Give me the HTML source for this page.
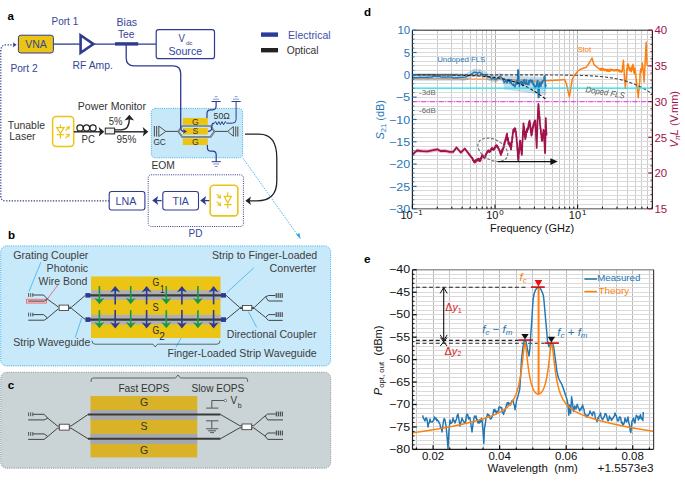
<!DOCTYPE html>
<html><head><meta charset="utf-8"><style>
html,body{margin:0;padding:0;background:#fff;}
svg{display:block;font-family:"Liberation Sans", sans-serif;}
</style></head><body>
<svg width="685" height="485" viewBox="0 0 685 485">
<rect width="685" height="485" fill="#fff"/>
<text x="7.60" y="19.60" font-size="11.55" fill="#000" font-weight="bold">a</text>
<path d="M109.2,200.9 H5.5 Q0.8,200.9 0.8,196 V51 Q0.8,44.8 6.5,44.8 H14" stroke="#2e3b8f" stroke-width="1.2" fill="none" stroke-dasharray="1.3,1.45"/>
<path d="M16.60,44.80 L12.80,47.40 L13.80,44.80 L12.80,42.20 Z" stroke="none" stroke-width="1" fill="#2e3b8f"/>
<rect x="18.40" y="35.20" width="35.00" height="17.80" rx="2.5" fill="#ecc414" stroke="#2e3b8f" stroke-width="1"/>
<text x="25.20" y="48.20" font-size="11.55" fill="#36468a" textLength="21.60" lengthAdjust="spacingAndGlyphs">VNA</text>
<line x1="53.40" y1="44.10" x2="80.50" y2="44.10" stroke="#2e3b8f" stroke-width="1.3"/>
<path d="M80.6,35.3 L93.4,44.1 L80.6,52.9 Z" stroke="#2e3b8f" stroke-width="2.6" fill="#fff" stroke-linejoin="miter"/>
<line x1="94.30" y1="44.10" x2="156.20" y2="44.10" stroke="#2e3b8f" stroke-width="1.3"/>
<line x1="115.00" y1="43.90" x2="138.20" y2="43.90" stroke="#2e3b8f" stroke-width="3.4"/>
<text x="51.60" y="25.40" font-size="10.78" fill="#33449a" textLength="26.60" lengthAdjust="spacingAndGlyphs">Port 1</text>
<text x="72.60" y="69.00" font-size="10.78" fill="#33449a" textLength="40.30" lengthAdjust="spacingAndGlyphs">RF Amp.</text>
<text x="10.40" y="71.80" font-size="10.78" fill="#33449a" textLength="27.20" lengthAdjust="spacingAndGlyphs">Port 2</text>
<text x="116.60" y="25.60" font-size="10.78" fill="#33449a" textLength="20.50" lengthAdjust="spacingAndGlyphs">Bias</text>
<text x="118.00" y="37.80" font-size="10.78" fill="#33449a" textLength="16.50" lengthAdjust="spacingAndGlyphs">Tee</text>
<rect x="156.20" y="29.60" width="58.30" height="29.10" rx="2.5" fill="#fff" stroke="#2e3b8f" stroke-width="1.2"/>
<text x="178.60" y="42.00" font-size="10.78" fill="#33449a" textLength="6.40" lengthAdjust="spacingAndGlyphs">V</text>
<text x="185.90" y="45.00" font-size="5.8" fill="#33449a" textLength="6.60" lengthAdjust="spacingAndGlyphs">dc</text>
<text x="168.40" y="54.80" font-size="10.78" fill="#33449a" textLength="33.80" lengthAdjust="spacingAndGlyphs">Source</text>
<path d="M126.2,44 V58 Q126.2,65.8 134,65.8 H173 Q180.7,65.8 180.7,73.5 V109" stroke="#2e3b8f" stroke-width="1.3" fill="none"/>
<rect x="261.00" y="32.40" width="17.00" height="4.40" rx="0" fill="#2b3b9a" stroke="none" stroke-width="1"/>
<text x="288.10" y="39.30" font-size="11.0" fill="#3f51a5" textLength="42.50" lengthAdjust="spacingAndGlyphs">Electrical</text>
<rect x="261.00" y="48.00" width="17.00" height="4.40" rx="0" fill="#222" stroke="none" stroke-width="1"/>
<text x="286.70" y="53.90" font-size="11.0" fill="#333" textLength="31.90" lengthAdjust="spacingAndGlyphs">Optical</text>
<text x="7.80" y="129.30" font-size="10.56" fill="#333" textLength="37.20" lengthAdjust="spacingAndGlyphs">Tunable</text>
<text x="9.20" y="140.40" font-size="10.56" fill="#333" textLength="26.40" lengthAdjust="spacingAndGlyphs">Laser</text>
<rect x="52.60" y="116.60" width="21.10" height="29.80" rx="3.5" fill="#fff" stroke="#ecc414" stroke-width="1.5"/>
<path d="M60.4,124.5 V127.7 M60.4,133.4 V138.5 M56.7,127.7 H64.1 L60.4,133.4 Z M56.7,134.7 H64.1" stroke="#ecc414" stroke-width="1.2" fill="none" stroke-linejoin="miter"/>
<line x1="65.40" y1="130.50" x2="67.80" y2="128.10" stroke="#ecc414" stroke-width="1.2"/>
<path d="M70.00,125.90 L69.01,130.57 L67.88,128.02 L65.33,126.89 Z" stroke="none" stroke-width="1" fill="#ecc414"/>
<line x1="65.40" y1="138.20" x2="67.80" y2="135.80" stroke="#ecc414" stroke-width="1.2"/>
<path d="M70.00,133.60 L69.01,138.27 L67.88,135.72 L65.33,134.59 Z" stroke="none" stroke-width="1" fill="#ecc414"/>
<line x1="73.80" y1="131.80" x2="101.50" y2="131.80" stroke="#222" stroke-width="1.4"/>
<circle cx="80.0" cy="128.0" r="3.1" stroke="#222" stroke-width="1.2" fill="none"/>
<circle cx="86.5" cy="128.0" r="3.1" stroke="#222" stroke-width="1.2" fill="none"/>
<circle cx="93.0" cy="128.0" r="3.1" stroke="#222" stroke-width="1.2" fill="none"/>
<path d="M104.30,131.80 L98.70,136.60 L100.00,131.80 L98.70,127.00 Z" stroke="none" stroke-width="1" fill="#222"/>
<rect x="105.30" y="128.10" width="9.30" height="5.80" rx="0" fill="#eef0ee" stroke="#333" stroke-width="1.1"/>
<line x1="114.70" y1="131.80" x2="146.00" y2="131.80" stroke="#222" stroke-width="1.4"/>
<path d="M148.30,131.80 L142.70,136.60 L144.00,131.80 L142.70,127.00 Z" stroke="none" stroke-width="1" fill="#222"/>
<path d="M114.7,129.9 H121 Q129.3,129.9 129.3,119" stroke="#222" stroke-width="1.3" fill="none"/>
<path d="M129.30,114.80 L134.20,120.60 L129.30,119.20 L124.40,120.60 Z" stroke="none" stroke-width="1" fill="#222"/>
<text x="77.80" y="109.70" font-size="10.78" fill="#333" textLength="68.20" lengthAdjust="spacingAndGlyphs">Power Monitor</text>
<text x="108.80" y="124.60" font-size="10.78" fill="#333" textLength="13.80" lengthAdjust="spacingAndGlyphs">5%</text>
<text x="81.50" y="143.40" font-size="10.78" fill="#333" textLength="13.40" lengthAdjust="spacingAndGlyphs">PC</text>
<text x="116.50" y="143.40" font-size="10.78" fill="#333" textLength="19.90" lengthAdjust="spacingAndGlyphs">95%</text>
<rect x="151.30" y="108.40" width="91.30" height="49.40" rx="4" fill="#c6e8f9" stroke="#35aee6" stroke-width="1" stroke-dasharray="1,1.2"/>
<rect x="182.80" y="117.90" width="25.00" height="7.00" rx="0" fill="#ecc414" stroke="none" stroke-width="1"/>
<rect x="182.80" y="127.90" width="25.00" height="6.70" rx="0" fill="#ecc414" stroke="none" stroke-width="1"/>
<rect x="182.80" y="138.30" width="25.00" height="6.80" rx="0" fill="#ecc414" stroke="none" stroke-width="1"/>
<text x="195.30" y="124.50" font-size="8.6" fill="#333" text-anchor="middle">G</text>
<text x="195.30" y="134.40" font-size="8.6" fill="#333" text-anchor="middle">S</text>
<text x="195.30" y="144.90" font-size="8.6" fill="#333" text-anchor="middle">G</text>
<path d="M165.8,131.4 H178.3 M214.4,131.4 H227.6" stroke="#333" stroke-width="0.9" fill="none"/>
<path d="M178.3,131.4 L182.2,126.0 H210.6 L214.4,131.4 L210.6,136.8 H182.2 Z" stroke="#5b6570" stroke-width="1.7" fill="none" stroke-linejoin="miter"/>
<path d="M178.3,131.4 L182.2,126.0 H210.6 L214.4,131.4 L210.6,136.8 H182.2 Z" stroke="#aab5c0" stroke-width="0.6" fill="none" stroke-linejoin="miter"/>
<line x1="154.40" y1="126.10" x2="154.40" y2="136.50" stroke="#555" stroke-width="1.1"/>
<line x1="156.60" y1="126.10" x2="156.60" y2="136.50" stroke="#555" stroke-width="1.1"/>
<path d="M158.8,126.1 V136.5 L165.8,131.4 Z" stroke="#444" stroke-width="0.9" fill="none" stroke-linejoin="miter"/>
<line x1="235.70" y1="126.40" x2="235.70" y2="136.40" stroke="#555" stroke-width="1.1"/>
<line x1="237.80" y1="126.40" x2="237.80" y2="136.40" stroke="#555" stroke-width="1.1"/>
<path d="M233.4,126.6 V136.2 L227.6,131.4 Z" stroke="#444" stroke-width="0.9" fill="none" stroke-linejoin="miter"/>
<text x="153.40" y="145.30" font-size="8.8" fill="#333" textLength="12.50" lengthAdjust="spacingAndGlyphs">GC</text>
<text x="151.50" y="169.40" font-size="11.0" fill="#333" textLength="23.40" lengthAdjust="spacingAndGlyphs">EOM</text>
<text x="213.60" y="119.30" font-size="8.8" fill="#333" textLength="16.30" lengthAdjust="spacingAndGlyphs">50Ω</text>
<path d="M207.0,117.9 V113.5 Q207.0,109.8 210.7,109.8 H212.4 Q216.1,109.8 216.1,106 V101.5" stroke="#2e3b8f" stroke-width="1.2" fill="none"/>
<path d="M208.0,131.4 Q211.8,131.4 211.8,127.6 V126.5 Q211.8,123.2 214.3,123.2" stroke="#2e3b8f" stroke-width="1.2" fill="none"/>
<path d="M214.3,123.2 L215.6,121.6 L217.2,124.8 L218.8,121.6 L220.4,124.8 L222.0,121.6 L223.6,124.8 L225.2,121.6 L226.8,123.2 H232.4 Q236.1,123.2 236.1,119.5 V101.5" stroke="#2e3b8f" stroke-width="1.0" fill="none"/>
<path d="M207.4,145.1 V147.8 Q207.4,151.2 211,151.2 H212.6 Q216.2,151.2 216.2,155 V161.7" stroke="#2e3b8f" stroke-width="1.2" fill="none"/>
<path d="M211.5,101.5 H220.7" stroke="#2e3b8f" stroke-width="1.0" fill="none"/>
<path d="M213.1,99.2 H219.1 M214.7,96.7 H217.5" stroke="#6c78b8" stroke-width="0.8" fill="none"/>
<path d="M231.5,101.5 H240.7" stroke="#2e3b8f" stroke-width="1.0" fill="none"/>
<path d="M233.1,99.2 H239.1 M234.7,96.7 H237.5" stroke="#6c78b8" stroke-width="0.8" fill="none"/>
<path d="M211.6,161.7 H220.79999999999998" stroke="#2e3b8f" stroke-width="1.0" fill="none"/>
<path d="M213.2,164.0 H219.2 M214.79999999999998,166.5 H217.6" stroke="#6c78b8" stroke-width="0.8" fill="none"/>
<path d="M180.7,108 V127.8 Q180.7,131.4 184,131.4" stroke="#2e3b8f" stroke-width="1.3" fill="none"/>
<path d="M187.00,131.40 L183.00,133.80 L184.00,131.40 L183.00,129.00 Z" stroke="none" stroke-width="1" fill="#2e3b8f"/>
<path d="M245.0,134.1 H259 C271.5,134.1 276.8,142 276.8,158 V181 C276.8,194 270,200.8 257,200.8 H249" stroke="#222" stroke-width="1.3" fill="none"/>
<path d="M245.40,200.80 L251.00,196.50 L249.70,200.80 L251.00,205.10 Z" stroke="none" stroke-width="1" fill="#222"/>
<path d="M242.7,157.8 L298.5,236.4" stroke="#2aa8e6" stroke-width="1" fill="none" stroke-dasharray="1,1.2"/>
<path d="M296.2,234.6 L300.6,239.2 L299.6,233.3 Z" stroke="none" stroke-width="1" fill="#2aa8e6"/>
<rect x="148.20" y="174.80" width="95.20" height="51.70" rx="3" fill="none" stroke="#2e3b8f" stroke-width="1" stroke-dasharray="1,1.2"/>
<rect x="109.20" y="191.50" width="35.70" height="18.50" rx="2.5" fill="#fff" stroke="#2e3b8f" stroke-width="1.1"/>
<rect x="162.80" y="191.50" width="35.70" height="18.50" rx="2.5" fill="#fff" stroke="#2e3b8f" stroke-width="1.1"/>
<text x="115.60" y="205.00" font-size="11.0" fill="#33449a" textLength="20.80" lengthAdjust="spacingAndGlyphs">LNA</text>
<text x="172.50" y="205.00" font-size="11.0" fill="#33449a" textLength="16.40" lengthAdjust="spacingAndGlyphs">TIA</text>
<line x1="155.20" y1="200.60" x2="161.70" y2="200.60" stroke="#2e3b8f" stroke-width="1.3"/>
<path d="M152.20,200.60 L158.20,196.10 L156.80,200.60 L158.20,205.10 Z" stroke="none" stroke-width="1" fill="#2e3b8f"/>
<line x1="203.20" y1="200.60" x2="209.70" y2="200.60" stroke="#2e3b8f" stroke-width="1.3"/>
<path d="M200.20,200.60 L206.20,196.10 L204.80,200.60 L206.20,205.10 Z" stroke="none" stroke-width="1" fill="#2e3b8f"/>
<rect x="210.20" y="185.20" width="27.60" height="30.70" rx="3.5" fill="#fff" stroke="#ecc414" stroke-width="1.6"/>
<path d="M227.7,192.2 V196.3 M227.7,202.9 V208.6 M224.2,196.3 H231.4 L227.7,202.9 Z M224.2,204.7 H231.4" stroke="#ecc414" stroke-width="1.2" fill="none" stroke-linejoin="miter"/>
<line x1="216.70" y1="194.10" x2="219.30" y2="196.70" stroke="#ecc414" stroke-width="1.2"/>
<path d="M221.30,198.70 L216.63,197.71 L219.18,196.58 L220.31,194.03 Z" stroke="none" stroke-width="1" fill="#ecc414"/>
<line x1="216.70" y1="201.60" x2="219.30" y2="204.20" stroke="#ecc414" stroke-width="1.2"/>
<path d="M221.30,206.20 L216.63,205.21 L219.18,204.08 L220.31,201.53 Z" stroke="none" stroke-width="1" fill="#ecc414"/>
<text x="188.60" y="236.80" font-size="11.0" fill="#33449a" textLength="13.90" lengthAdjust="spacingAndGlyphs">PD</text>
<text x="7.90" y="238.50" font-size="11.55" fill="#000" font-weight="bold">b</text>
<rect x="0.70" y="245.90" width="329.90" height="120.00" rx="6" fill="#c7e9fa" stroke="#35aee6" stroke-width="1" stroke-dasharray="1,1.2"/>
<text x="13.20" y="258.90" font-size="11.0" fill="#3d3d3d" textLength="75.20" lengthAdjust="spacingAndGlyphs">Grating Coupler</text>
<text x="46.60" y="272.00" font-size="11.0" fill="#3d3d3d" textLength="41.50" lengthAdjust="spacingAndGlyphs">Photonic</text>
<text x="38.60" y="284.70" font-size="11.0" fill="#3d3d3d" textLength="48.80" lengthAdjust="spacingAndGlyphs">Wire Bond</text>
<text x="13.20" y="345.80" font-size="11.0" fill="#3d3d3d" textLength="77.20" lengthAdjust="spacingAndGlyphs">Strip Waveguide</text>
<text x="212.00" y="259.20" font-size="11.0" fill="#3d3d3d" textLength="105.20" lengthAdjust="spacingAndGlyphs">Strip to Finger-Loaded</text>
<text x="269.60" y="271.80" font-size="11.0" fill="#3d3d3d" textLength="46.80" lengthAdjust="spacingAndGlyphs">Converter</text>
<text x="226.80" y="338.40" font-size="11.0" fill="#3d3d3d" textLength="89.60" lengthAdjust="spacingAndGlyphs">Directional Coupler</text>
<text x="167.50" y="357.20" font-size="11.0" fill="#3d3d3d" textLength="149.20" lengthAdjust="spacingAndGlyphs">Finger-Loaded Strip Waveguide</text>
<line x1="40.90" y1="262.20" x2="29.00" y2="291.50" stroke="#3ab4ea" stroke-width="0.8"/>
<line x1="58.10" y1="284.60" x2="47.00" y2="299.50" stroke="#e8556a" stroke-width="0.8"/>
<line x1="81.80" y1="317.70" x2="75.20" y2="337.70" stroke="#3ab4ea" stroke-width="0.8"/>
<line x1="253.90" y1="267.80" x2="226.90" y2="292.50" stroke="#3ab4ea" stroke-width="0.8"/>
<line x1="248.30" y1="311.60" x2="256.70" y2="327.40" stroke="#3ab4ea" stroke-width="0.8"/>
<line x1="190.80" y1="321.20" x2="176.00" y2="347.20" stroke="#3ab4ea" stroke-width="0.8"/>
<rect x="26.40" y="299.20" width="20.20" height="3.90" rx="0" fill="#f2c6c0" stroke="#e8556a" stroke-width="0.7"/>
<rect x="91.00" y="276.50" width="129.50" height="61.50" rx="0" fill="#ecc414" stroke="none" stroke-width="1"/>
<rect x="91.00" y="290.20" width="129.50" height="9.90" rx="0" fill="#aeb0b4" stroke="none" stroke-width="1"/>
<rect x="91.00" y="314.80" width="129.50" height="9.70" rx="0" fill="#aeb0b4" stroke="none" stroke-width="1"/>
<line x1="86.00" y1="295.40" x2="226.00" y2="295.40" stroke="#3a3a3a" stroke-width="2.4"/>
<line x1="86.00" y1="319.60" x2="226.00" y2="319.60" stroke="#3a3a3a" stroke-width="2.4"/>
<rect x="85.40" y="293.10" width="5.10" height="4.50" rx="0" fill="#2b3a92" stroke="none" stroke-width="1"/>
<rect x="85.40" y="317.30" width="5.10" height="4.60" rx="0" fill="#2b3a92" stroke="none" stroke-width="1"/>
<rect x="220.90" y="293.10" width="5.10" height="4.50" rx="0" fill="#2b3a92" stroke="none" stroke-width="1"/>
<rect x="220.90" y="317.30" width="5.10" height="4.60" rx="0" fill="#2b3a92" stroke="none" stroke-width="1"/>
<line x1="99.40" y1="286.00" x2="99.40" y2="301.20" stroke="#169a48" stroke-width="1.6"/>
<path d="M99.40,304.20 L94.40,297.90 L99.40,299.60 L104.40,297.90 Z" stroke="none" stroke-width="1" fill="#169a48"/>
<line x1="99.40" y1="310.20" x2="99.40" y2="325.30" stroke="#169a48" stroke-width="1.6"/>
<path d="M99.40,328.30 L94.40,322.00 L99.40,323.70 L104.40,322.00 Z" stroke="none" stroke-width="1" fill="#169a48"/>
<line x1="130.70" y1="286.00" x2="130.70" y2="301.20" stroke="#169a48" stroke-width="1.6"/>
<path d="M130.70,304.20 L125.70,297.90 L130.70,299.60 L135.70,297.90 Z" stroke="none" stroke-width="1" fill="#169a48"/>
<line x1="130.70" y1="310.20" x2="130.70" y2="325.30" stroke="#169a48" stroke-width="1.6"/>
<path d="M130.70,328.30 L125.70,322.00 L130.70,323.70 L135.70,322.00 Z" stroke="none" stroke-width="1" fill="#169a48"/>
<line x1="166.30" y1="286.00" x2="166.30" y2="301.20" stroke="#169a48" stroke-width="1.6"/>
<path d="M166.30,304.20 L161.30,297.90 L166.30,299.60 L171.30,297.90 Z" stroke="none" stroke-width="1" fill="#169a48"/>
<line x1="166.30" y1="310.20" x2="166.30" y2="325.30" stroke="#169a48" stroke-width="1.6"/>
<path d="M166.30,328.30 L161.30,322.00 L166.30,323.70 L171.30,322.00 Z" stroke="none" stroke-width="1" fill="#169a48"/>
<line x1="197.90" y1="286.00" x2="197.90" y2="301.20" stroke="#169a48" stroke-width="1.6"/>
<path d="M197.90,304.20 L192.90,297.90 L197.90,299.60 L202.90,297.90 Z" stroke="none" stroke-width="1" fill="#169a48"/>
<line x1="197.90" y1="310.20" x2="197.90" y2="325.30" stroke="#169a48" stroke-width="1.6"/>
<path d="M197.90,328.30 L192.90,322.00 L197.90,323.70 L202.90,322.00 Z" stroke="none" stroke-width="1" fill="#169a48"/>
<line x1="115.20" y1="304.40" x2="115.20" y2="289.00" stroke="#2b3a92" stroke-width="1.6"/>
<path d="M115.20,286.00 L120.20,292.30 L115.20,290.60 L110.20,292.30 Z" stroke="none" stroke-width="1" fill="#2b3a92"/>
<line x1="115.20" y1="310.00" x2="115.20" y2="325.50" stroke="#2b3a92" stroke-width="1.6"/>
<path d="M115.20,328.50 L110.20,322.20 L115.20,323.90 L120.20,322.20 Z" stroke="none" stroke-width="1" fill="#2b3a92"/>
<line x1="146.60" y1="304.40" x2="146.60" y2="289.00" stroke="#2b3a92" stroke-width="1.6"/>
<path d="M146.60,286.00 L151.60,292.30 L146.60,290.60 L141.60,292.30 Z" stroke="none" stroke-width="1" fill="#2b3a92"/>
<line x1="146.60" y1="310.00" x2="146.60" y2="325.50" stroke="#2b3a92" stroke-width="1.6"/>
<path d="M146.60,328.50 L141.60,322.20 L146.60,323.90 L151.60,322.20 Z" stroke="none" stroke-width="1" fill="#2b3a92"/>
<line x1="181.90" y1="304.40" x2="181.90" y2="289.00" stroke="#2b3a92" stroke-width="1.6"/>
<path d="M181.90,286.00 L186.90,292.30 L181.90,290.60 L176.90,292.30 Z" stroke="none" stroke-width="1" fill="#2b3a92"/>
<line x1="181.90" y1="310.00" x2="181.90" y2="325.50" stroke="#2b3a92" stroke-width="1.6"/>
<path d="M181.90,328.50 L176.90,322.20 L181.90,323.90 L186.90,322.20 Z" stroke="none" stroke-width="1" fill="#2b3a92"/>
<line x1="213.60" y1="304.40" x2="213.60" y2="289.00" stroke="#2b3a92" stroke-width="1.6"/>
<path d="M213.60,286.00 L218.60,292.30 L213.60,290.60 L208.60,292.30 Z" stroke="none" stroke-width="1" fill="#2b3a92"/>
<line x1="213.60" y1="310.00" x2="213.60" y2="325.50" stroke="#2b3a92" stroke-width="1.6"/>
<path d="M213.60,328.50 L208.60,322.20 L213.60,323.90 L218.60,322.20 Z" stroke="none" stroke-width="1" fill="#2b3a92"/>
<text x="152.60" y="286.20" font-size="11.0" fill="#2a2a2a" textLength="6.80" lengthAdjust="spacingAndGlyphs">G</text>
<text x="159.90" y="293.40" font-size="11.0" fill="#2a2a2a" textLength="4.60" lengthAdjust="spacingAndGlyphs">1</text>
<text x="152.60" y="310.80" font-size="10.6" fill="#2a2a2a" textLength="6.20" lengthAdjust="spacingAndGlyphs">S</text>
<text x="152.60" y="334.40" font-size="11.0" fill="#2a2a2a" textLength="6.80" lengthAdjust="spacingAndGlyphs">G</text>
<text x="159.20" y="340.30" font-size="11.0" fill="#2a2a2a" textLength="5.60" lengthAdjust="spacingAndGlyphs">2</text>
<line x1="28.60" y1="293.10" x2="28.60" y2="296.90" stroke="#333" stroke-width="0.8"/>
<line x1="30.70" y1="293.10" x2="30.70" y2="296.90" stroke="#333" stroke-width="0.8"/>
<line x1="32.80" y1="293.10" x2="32.80" y2="296.90" stroke="#333" stroke-width="0.8"/>
<line x1="28.60" y1="312.70" x2="28.60" y2="316.50" stroke="#333" stroke-width="0.8"/>
<line x1="30.70" y1="312.70" x2="30.70" y2="316.50" stroke="#333" stroke-width="0.8"/>
<line x1="32.80" y1="312.70" x2="32.80" y2="316.50" stroke="#333" stroke-width="0.8"/>
<path d="M32.8,295 H43.6 L47.5,299.2 M28.2,301.1 H44.2 L47.5,299.2 L58.6,307.2" stroke="#333" stroke-width="0.9" fill="none"/>
<path d="M32.8,314.6 H43.6 L47.5,318 M28.2,320.2 H44.2 L47.5,318 L58.6,308.6" stroke="#333" stroke-width="0.9" fill="none"/>
<rect x="59.10" y="305.10" width="9.50" height="5.30" rx="0" fill="#fff" stroke="#333" stroke-width="0.8"/>
<path d="M68.6,307.2 L71.5,307.2 L85.4,295.3 M68.6,308.4 L71.5,308.4 L85.4,319.6" stroke="#333" stroke-width="0.9" fill="none"/>
<rect x="242.50" y="305.40" width="9.30" height="4.90" rx="0" fill="#fff" stroke="#333" stroke-width="0.8"/>
<path d="M226,295.3 L239.5,307.3 H242.5 M226,319.6 L239.5,308.5 H242.5" stroke="#333" stroke-width="0.9" fill="none"/>
<path d="M251.8,307.3 H254.5 L265.5,296.8 L268.5,295.5 H275.4 M265.5,296.8 L268.5,301 H282.6" stroke="#333" stroke-width="0.9" fill="none"/>
<path d="M251.8,308.5 H254.5 L265.5,317.4 L268.5,314.6 H275.4 M265.5,317.4 L268.5,320.4 H282.6" stroke="#333" stroke-width="0.9" fill="none"/>
<line x1="276.20" y1="293.10" x2="276.20" y2="297.90" stroke="#333" stroke-width="1.0"/>
<line x1="278.20" y1="293.10" x2="278.20" y2="297.90" stroke="#333" stroke-width="1.0"/>
<line x1="280.20" y1="293.10" x2="280.20" y2="297.90" stroke="#333" stroke-width="1.0"/>
<line x1="282.20" y1="293.10" x2="282.20" y2="297.90" stroke="#333" stroke-width="1.0"/>
<line x1="276.20" y1="312.20" x2="276.20" y2="317.00" stroke="#333" stroke-width="1.0"/>
<line x1="278.20" y1="312.20" x2="278.20" y2="317.00" stroke="#333" stroke-width="1.0"/>
<line x1="280.20" y1="312.20" x2="280.20" y2="317.00" stroke="#333" stroke-width="1.0"/>
<line x1="282.20" y1="312.20" x2="282.20" y2="317.00" stroke="#333" stroke-width="1.0"/>
<path d="M92,340.6 Q92,344.2 95,344.2 H153 L155.2,347 L157.4,344.2 H217 Q220,344.2 220,340.6" stroke="#444" stroke-width="0.8" fill="none"/>
<rect x="0.70" y="372.30" width="330.00" height="95.90" rx="6" fill="#cad3d5" stroke="#8c9397" stroke-width="1" stroke-dasharray="1,1.2"/>
<text x="7.70" y="388.50" font-size="11.55" fill="#000" font-weight="bold">c</text>
<path d="M91.2,381.9 V380 Q91.2,378 93.2,378 H175.5 L178,375 L180.5,378 H245.6 Q247.6,378 247.6,380 V381.9" stroke="#444" stroke-width="0.8" fill="none"/>
<text x="118.40" y="391.60" font-size="11.0" fill="#333" textLength="51.00" lengthAdjust="spacingAndGlyphs">Fast EOPS</text>
<text x="191.60" y="391.60" font-size="11.0" fill="#333" textLength="52.70" lengthAdjust="spacingAndGlyphs">Slow EOPS</text>
<rect x="90.50" y="396.00" width="106.70" height="61.40" rx="0" fill="#dab228" stroke="none" stroke-width="1"/>
<rect x="90.50" y="410.00" width="106.70" height="9.90" rx="0" fill="#a5a8ae" stroke="none" stroke-width="1"/>
<rect x="90.50" y="433.80" width="106.70" height="10.20" rx="0" fill="#a5a8ae" stroke="none" stroke-width="1"/>
<line x1="88.00" y1="414.50" x2="220.50" y2="414.50" stroke="#3a3a3a" stroke-width="2.0"/>
<line x1="88.00" y1="438.70" x2="220.50" y2="438.70" stroke="#3a3a3a" stroke-width="2.0"/>
<text x="144.00" y="406.00" font-size="10.56" fill="#333" text-anchor="middle">G</text>
<text x="144.00" y="430.30" font-size="10.56" fill="#333" text-anchor="middle">S</text>
<text x="144.00" y="453.90" font-size="10.56" fill="#333" text-anchor="middle">G</text>
<path d="M220.5,414.5 L239.8,425.7 H242 M220.5,438.7 L239.8,427.8 H242" stroke="#333" stroke-width="0.9" fill="none"/>
<rect x="242.00" y="424.00" width="9.70" height="5.70" rx="0" fill="#fff" stroke="#333" stroke-width="0.8"/>
<path d="M251.7,425.7 H253.7 L265,416 L267.7,414.0 H275.6 M265,416 L267.7,419.9 H283" stroke="#333" stroke-width="0.9" fill="none"/>
<path d="M251.7,427.9 H253.7 L265,436 L267.7,433.0 H275.6 M265,436 L267.7,439.4 H283" stroke="#333" stroke-width="0.9" fill="none"/>
<line x1="276.30" y1="411.60" x2="276.30" y2="416.40" stroke="#333" stroke-width="1.0"/>
<line x1="278.30" y1="411.60" x2="278.30" y2="416.40" stroke="#333" stroke-width="1.0"/>
<line x1="280.30" y1="411.60" x2="280.30" y2="416.40" stroke="#333" stroke-width="1.0"/>
<line x1="282.30" y1="411.60" x2="282.30" y2="416.40" stroke="#333" stroke-width="1.0"/>
<line x1="276.30" y1="430.60" x2="276.30" y2="435.40" stroke="#333" stroke-width="1.0"/>
<line x1="278.30" y1="430.60" x2="278.30" y2="435.40" stroke="#333" stroke-width="1.0"/>
<line x1="280.30" y1="430.60" x2="280.30" y2="435.40" stroke="#333" stroke-width="1.0"/>
<line x1="282.30" y1="430.60" x2="282.30" y2="435.40" stroke="#333" stroke-width="1.0"/>
<rect x="59.30" y="424.20" width="9.90" height="5.90" rx="0" fill="#fff" stroke="#333" stroke-width="0.8"/>
<path d="M69.2,426 H71 L88,414.5 M69.2,428.2 H71 L88,438.7" stroke="#333" stroke-width="0.9" fill="none"/>
<path d="M59.3,426 H57.5 L47.8,418.2 L44.1,414.3 H33 M47.8,418.2 L44.1,419.9 H28.2" stroke="#333" stroke-width="0.9" fill="none"/>
<path d="M59.3,428.2 H57.5 L47.8,436.5 L44.1,433.9 H33 M47.8,436.5 L44.1,439.4 H28.2" stroke="#333" stroke-width="0.9" fill="none"/>
<line x1="28.60" y1="412.40" x2="28.60" y2="416.20" stroke="#333" stroke-width="0.8"/>
<line x1="30.70" y1="412.40" x2="30.70" y2="416.20" stroke="#333" stroke-width="0.8"/>
<line x1="32.80" y1="412.40" x2="32.80" y2="416.20" stroke="#333" stroke-width="0.8"/>
<line x1="28.60" y1="432.00" x2="28.60" y2="435.80" stroke="#333" stroke-width="0.8"/>
<line x1="30.70" y1="432.00" x2="30.70" y2="435.80" stroke="#333" stroke-width="0.8"/>
<line x1="32.80" y1="432.00" x2="32.80" y2="435.80" stroke="#333" stroke-width="0.8"/>
<path d="M206.1,408.1 H218.3 M211.8,408.1 V400.5 H224.2" stroke="#555" stroke-width="1.0" fill="none"/>
<circle cx="225.4" cy="400.5" r="1.2" fill="#fff" stroke="#555" stroke-width="0.8"/>
<text x="230.40" y="403.60" font-size="11.22" fill="#333" textLength="6.60" lengthAdjust="spacingAndGlyphs">V</text>
<text x="237.70" y="407.90" font-size="7.0" fill="#333" textLength="3.90" lengthAdjust="spacingAndGlyphs">b</text>
<path d="M206.1,420.8 H218.3 M211.8,420.8 V428.8 M206.1,428.8 H218.3 M208.2,430.8 H216 M210.2,432.6 H214" stroke="#555" stroke-width="1.0" fill="none"/>
<text x="364.00" y="16.30" font-size="11.6" fill="#000" font-weight="bold">d</text>
<defs><clipPath id="cd"><rect x="412.4" y="30.2" width="240.0" height="178.5"/></clipPath></defs>
<line x1="437.50" y1="30.2" x2="437.50" y2="208.7" stroke="#cbcbcb" stroke-width="1"/><line x1="451.50" y1="30.2" x2="451.50" y2="208.7" stroke="#cbcbcb" stroke-width="1"/><line x1="462.50" y1="30.2" x2="462.50" y2="208.7" stroke="#cbcbcb" stroke-width="1"/><line x1="470.50" y1="30.2" x2="470.50" y2="208.7" stroke="#cbcbcb" stroke-width="1"/><line x1="476.50" y1="30.2" x2="476.50" y2="208.7" stroke="#cbcbcb" stroke-width="1"/><line x1="482.50" y1="30.2" x2="482.50" y2="208.7" stroke="#cbcbcb" stroke-width="1"/><line x1="486.50" y1="30.2" x2="486.50" y2="208.7" stroke="#cbcbcb" stroke-width="1"/><line x1="491.50" y1="30.2" x2="491.50" y2="208.7" stroke="#cbcbcb" stroke-width="1"/><line x1="495.50" y1="30.2" x2="495.50" y2="208.7" stroke="#b0b0b0" stroke-width="1"/><line x1="519.50" y1="30.2" x2="519.50" y2="208.7" stroke="#cbcbcb" stroke-width="1"/><line x1="534.50" y1="30.2" x2="534.50" y2="208.7" stroke="#cbcbcb" stroke-width="1"/><line x1="544.50" y1="30.2" x2="544.50" y2="208.7" stroke="#cbcbcb" stroke-width="1"/><line x1="552.50" y1="30.2" x2="552.50" y2="208.7" stroke="#cbcbcb" stroke-width="1"/><line x1="559.50" y1="30.2" x2="559.50" y2="208.7" stroke="#cbcbcb" stroke-width="1"/><line x1="564.50" y1="30.2" x2="564.50" y2="208.7" stroke="#cbcbcb" stroke-width="1"/><line x1="569.50" y1="30.2" x2="569.50" y2="208.7" stroke="#cbcbcb" stroke-width="1"/><line x1="573.50" y1="30.2" x2="573.50" y2="208.7" stroke="#cbcbcb" stroke-width="1"/><line x1="577.50" y1="30.2" x2="577.50" y2="208.7" stroke="#b0b0b0" stroke-width="1"/><line x1="602.50" y1="30.2" x2="602.50" y2="208.7" stroke="#cbcbcb" stroke-width="1"/><line x1="617.50" y1="30.2" x2="617.50" y2="208.7" stroke="#cbcbcb" stroke-width="1"/><line x1="627.50" y1="30.2" x2="627.50" y2="208.7" stroke="#cbcbcb" stroke-width="1"/><line x1="635.50" y1="30.2" x2="635.50" y2="208.7" stroke="#cbcbcb" stroke-width="1"/><line x1="641.50" y1="30.2" x2="641.50" y2="208.7" stroke="#cbcbcb" stroke-width="1"/><line x1="647.50" y1="30.2" x2="647.50" y2="208.7" stroke="#cbcbcb" stroke-width="1"/><line x1="412.4" y1="204.50" x2="652.4" y2="204.50" stroke="#dadada" stroke-width="1"/><line x1="412.4" y1="199.50" x2="652.4" y2="199.50" stroke="#dadada" stroke-width="1"/><line x1="412.4" y1="195.50" x2="652.4" y2="195.50" stroke="#dadada" stroke-width="1"/><line x1="412.4" y1="190.50" x2="652.4" y2="190.50" stroke="#dadada" stroke-width="1"/><line x1="412.4" y1="186.50" x2="652.4" y2="186.50" stroke="#dadada" stroke-width="1"/><line x1="412.4" y1="181.50" x2="652.4" y2="181.50" stroke="#dadada" stroke-width="1"/><line x1="412.4" y1="177.50" x2="652.4" y2="177.50" stroke="#dadada" stroke-width="1"/><line x1="412.4" y1="173.50" x2="652.4" y2="173.50" stroke="#dadada" stroke-width="1"/><line x1="412.4" y1="168.50" x2="652.4" y2="168.50" stroke="#dadada" stroke-width="1"/><line x1="412.4" y1="164.50" x2="652.4" y2="164.50" stroke="#dadada" stroke-width="1"/><line x1="412.4" y1="159.50" x2="652.4" y2="159.50" stroke="#dadada" stroke-width="1"/><line x1="412.4" y1="155.50" x2="652.4" y2="155.50" stroke="#dadada" stroke-width="1"/><line x1="412.4" y1="150.50" x2="652.4" y2="150.50" stroke="#dadada" stroke-width="1"/><line x1="412.4" y1="146.50" x2="652.4" y2="146.50" stroke="#dadada" stroke-width="1"/><line x1="412.4" y1="141.50" x2="652.4" y2="141.50" stroke="#dadada" stroke-width="1"/><line x1="412.4" y1="137.50" x2="652.4" y2="137.50" stroke="#dadada" stroke-width="1"/><line x1="412.4" y1="132.50" x2="652.4" y2="132.50" stroke="#dadada" stroke-width="1"/><line x1="412.4" y1="128.50" x2="652.4" y2="128.50" stroke="#dadada" stroke-width="1"/><line x1="412.4" y1="123.50" x2="652.4" y2="123.50" stroke="#dadada" stroke-width="1"/><line x1="412.4" y1="119.50" x2="652.4" y2="119.50" stroke="#dadada" stroke-width="1"/><line x1="412.4" y1="114.50" x2="652.4" y2="114.50" stroke="#dadada" stroke-width="1"/><line x1="412.4" y1="110.50" x2="652.4" y2="110.50" stroke="#dadada" stroke-width="1"/><line x1="412.4" y1="106.50" x2="652.4" y2="106.50" stroke="#dadada" stroke-width="1"/><line x1="412.4" y1="101.50" x2="652.4" y2="101.50" stroke="#dadada" stroke-width="1"/><line x1="412.4" y1="97.50" x2="652.4" y2="97.50" stroke="#dadada" stroke-width="1"/><line x1="412.4" y1="92.50" x2="652.4" y2="92.50" stroke="#dadada" stroke-width="1"/><line x1="412.4" y1="88.50" x2="652.4" y2="88.50" stroke="#dadada" stroke-width="1"/><line x1="412.4" y1="83.50" x2="652.4" y2="83.50" stroke="#dadada" stroke-width="1"/><line x1="412.4" y1="79.50" x2="652.4" y2="79.50" stroke="#dadada" stroke-width="1"/><line x1="412.4" y1="74.50" x2="652.4" y2="74.50" stroke="#dadada" stroke-width="1"/><line x1="412.4" y1="70.50" x2="652.4" y2="70.50" stroke="#dadada" stroke-width="1"/><line x1="412.4" y1="65.50" x2="652.4" y2="65.50" stroke="#dadada" stroke-width="1"/><line x1="412.4" y1="61.50" x2="652.4" y2="61.50" stroke="#dadada" stroke-width="1"/><line x1="412.4" y1="56.50" x2="652.4" y2="56.50" stroke="#dadada" stroke-width="1"/><line x1="412.4" y1="52.50" x2="652.4" y2="52.50" stroke="#dadada" stroke-width="1"/><line x1="412.4" y1="48.50" x2="652.4" y2="48.50" stroke="#dadada" stroke-width="1"/><line x1="412.4" y1="43.50" x2="652.4" y2="43.50" stroke="#dadada" stroke-width="1"/><line x1="412.4" y1="39.50" x2="652.4" y2="39.50" stroke="#dadada" stroke-width="1"/><line x1="412.4" y1="34.50" x2="652.4" y2="34.50" stroke="#dadada" stroke-width="1"/>
<g clip-path="url(#cd)">
<polyline points="412.40,78.33 413.90,78.49 415.40,78.05 416.90,78.57 418.40,78.17 419.90,78.33 421.40,78.62 422.90,78.23 424.40,78.66 425.90,78.32 427.40,78.67 428.90,78.66 430.40,78.38 431.90,78.04 433.40,78.69 434.90,78.62 436.40,78.28 437.90,78.02 439.40,78.37 440.90,78.55 442.40,78.06 443.90,78.91 445.40,78.21 446.90,78.74 448.40,78.90 449.90,78.95 451.40,78.80 452.90,78.38 454.40,78.97 455.90,78.64 457.40,78.62 458.90,78.89 460.40,78.76 461.90,79.22 463.40,79.25 464.90,79.15 466.40,78.76 467.90,79.02 469.40,79.15 470.90,78.94 472.40,79.09 473.90,79.26 475.40,78.85 476.90,78.97 478.40,79.41 479.90,79.15 481.40,79.23 482.90,78.96 484.40,79.12 485.90,79.55 487.40,78.97 488.90,79.78 490.40,79.55 491.90,79.28 493.40,79.86 494.90,79.60 496.40,80.04 497.90,79.52 499.40,79.47 500.90,79.68 502.40,79.45 503.90,79.99 505.40,79.69 506.90,79.82 508.40,79.88 509.90,80.03 511.40,79.73 512.90,79.68 514.40,80.14 515.90,80.02 517.40,80.60 518.90,80.07 520.40,80.16 521.90,79.90 523.40,80.10 524.90,80.62 526.40,80.58 527.90,80.37 529.40,80.99 530.90,80.65 532.40,80.95 533.90,81.05 535.40,81.15 536.90,80.56 538.40,81.18 539.90,81.12 541.40,81.04 542.90,80.66 544.40,81.41" stroke="#f7a35c" stroke-width="1.3" fill="none" stroke-linejoin="round"/>
<polyline points="545.00,80.80 550.00,80.60 555.00,80.20 560.00,79.90 564.70,79.60 566.50,84.00 568.00,91.00 569.40,96.90 570.60,90.00 572.20,79.60 574.00,76.00 575.90,73.40 577.50,71.50 579.60,69.70 582.00,68.80 584.50,67.80 586.00,67.50 587.60,65.40 589.50,62.50 592.00,58.00 593.80,64.10 595.50,66.00 597.00,67.20 600.00,69.30 600.30,68.71 600.60,70.02 600.90,68.44 601.20,70.25 601.50,68.50 601.80,69.91 602.10,68.85 602.40,70.01 602.70,68.56 603.00,69.50 603.30,68.60 603.60,70.05 603.90,69.29 604.20,70.24 604.50,69.39 604.80,70.56 605.10,69.28 605.40,70.54 605.70,69.83 606.00,70.20 606.31,69.62 606.62,70.79 606.93,69.56 607.24,71.24 607.55,69.51 607.85,70.97 608.16,69.59 608.47,71.12 608.78,70.03 609.09,71.31 609.40,70.40 609.73,71.15 610.05,69.29 610.38,70.96 610.70,69.43 611.02,70.48 611.35,69.43 611.67,70.44 612.00,69.60 612.33,70.09 612.67,69.55 613.00,70.50 613.33,69.79 613.67,70.89 614.00,70.50 614.33,70.74 614.65,70.00 614.98,70.61 615.30,69.73 615.62,70.55 615.95,69.58 616.27,70.71 616.60,69.70 616.94,70.56 617.29,69.55 617.63,70.56 617.97,69.67 618.31,70.90 618.66,70.09 619.00,70.60 619.30,69.84 619.60,71.86 619.90,70.37 620.20,71.77 620.50,70.91 620.80,71.77 621.10,70.99 621.40,72.15 621.70,71.80 622.15,71.36 622.60,66.00 623.00,64.31 623.40,60.30 623.80,67.04 624.20,72.00 624.57,80.17 624.93,81.06 625.30,88.40 625.63,83.14 625.97,82.04 626.30,76.00 626.60,74.04 626.90,68.42 627.20,70.21 627.50,64.60 627.87,67.93 628.23,64.00 628.60,67.00 628.93,66.31 629.27,69.89 629.60,69.00 630.00,70.83 630.40,67.98 630.80,71.00 631.10,68.24 631.40,71.62 631.70,66.89 632.00,67.50 632.30,66.05 632.60,69.58 632.90,64.20 633.20,66.80 633.53,66.02 633.87,72.69 634.20,72.00 634.53,73.78 634.87,68.38 635.20,70.00 635.65,73.22 636.10,79.00 636.47,80.15 636.83,86.54 637.20,88.00 637.57,92.16 637.93,93.64 638.30,97.80 638.67,91.81 639.03,89.95 639.40,84.00 639.77,82.13 640.13,73.15 640.50,71.80 640.83,68.82 641.17,71.94 641.50,68.00 641.87,69.64 642.23,63.02 642.60,64.60 643.00,67.75 643.40,74.00 643.75,76.73 644.10,82.00 644.45,74.72 644.80,70.00 645.15,61.77 645.50,56.00 645.85,47.91 646.20,42.30 646.80,60.00 647.20,66.00" stroke="#ff7f0e" stroke-width="1.5" fill="none" stroke-linejoin="round"/>
<polygon points="412.70,73.20 413.90,73.20 415.10,73.20 416.30,73.20 417.50,73.20 418.70,73.20 419.90,73.20 421.10,73.20 422.30,73.20 423.50,73.20 424.70,73.20 425.90,73.20 427.10,73.20 428.30,73.20 429.50,73.20 430.70,73.20 431.90,73.20 433.10,73.20 434.30,73.20 435.50,73.20 436.70,73.20 437.90,73.20 439.10,73.20 440.30,73.20 441.50,73.20 442.70,73.20 443.90,73.20 445.10,73.20 446.30,73.20 447.50,73.20 448.70,73.20 449.90,73.20 451.10,73.20 452.30,73.20 453.50,73.20 454.70,73.20 455.90,73.20 457.10,73.20 458.30,73.20 459.50,73.20 462.60,73.70 465.30,73.60 467.90,72.20 471.50,70.60 473.90,68.60 475.80,68.90 477.80,69.60 479.80,68.60 481.80,70.30 483.10,71.20 485.10,70.90 487.00,72.90 489.70,73.60 491.70,75.50 493.60,74.50 495.60,76.20 497.60,74.50 499.90,72.60 501.60,73.90 503.50,76.80 504.20,75.51 504.60,75.52 505.00,75.54 505.40,75.55 505.80,75.56 506.20,75.58 506.60,75.59 507.00,75.61 507.40,75.62 507.80,75.64 508.20,75.65 508.60,75.66 509.00,75.68 509.40,75.69 509.80,75.71 510.20,75.72 510.60,75.74 511.00,75.75 511.40,75.76 511.80,75.78 512.20,75.79 512.60,75.81 513.00,75.82 513.40,75.84 513.80,75.85 514.20,75.86 514.60,75.88 515.00,75.89 515.40,75.91 515.80,75.92 516.20,75.94 516.60,75.95 517.00,75.96 517.40,75.98 517.80,75.99 518.20,76.01 518.60,76.02 519.00,76.04 519.40,76.05 519.80,76.06 520.20,76.08 520.60,76.09 521.00,76.11 521.40,76.12 521.80,76.14 522.20,76.15 522.60,76.16 523.00,76.18 523.40,76.19 523.80,76.21 524.20,76.22 524.60,76.24 525.00,76.25 525.40,76.26 525.80,76.28 526.20,76.29 526.60,76.31 527.00,76.32 527.40,76.34 527.80,76.35 528.20,76.36 528.60,76.38 529.00,76.39 529.40,76.41 529.80,76.42 530.20,76.44 530.60,76.45 531.00,76.46 531.40,76.48 531.80,76.49 532.20,76.51 532.60,76.52 533.00,76.54 533.40,76.55 533.80,76.56 534.20,76.58 534.60,76.59 535.00,76.61 535.40,76.62 535.80,76.64 536.20,76.65 536.60,76.66 537.00,76.68 537.40,76.69 537.80,76.71 538.20,76.72 538.60,76.74 539.00,76.75 539.40,76.76 539.80,76.78 540.20,76.79 540.60,76.81 541.00,76.82 541.40,76.84 541.80,76.85 542.20,76.86 542.60,76.88 543.00,76.89 543.40,76.91 543.80,76.92 544.20,76.94 544.60,76.95 545.00,76.96 545.40,76.98 545.80,76.99 546.20,77.01 546.20,95.03 545.80,94.97 545.40,94.92 545.00,94.87 544.60,94.82 544.20,94.76 543.80,94.71 543.40,94.66 543.00,94.61 542.60,94.55 542.20,94.50 541.80,94.45 541.40,94.40 541.00,94.35 540.60,94.29 540.20,94.24 539.80,94.19 539.40,94.14 539.00,94.08 538.60,94.03 538.20,93.98 537.80,93.93 537.40,93.87 537.00,93.82 536.60,93.77 536.20,93.72 535.80,93.66 535.40,93.61 535.00,93.56 534.60,93.51 534.20,93.45 533.80,93.40 533.40,93.35 533.00,93.30 532.60,93.25 532.20,93.19 531.80,93.14 531.40,93.09 531.00,93.04 530.60,92.98 530.20,92.93 529.80,92.88 529.40,92.83 529.00,92.77 528.60,92.72 528.20,92.67 527.80,92.62 527.40,92.56 527.00,92.51 526.60,92.46 526.20,92.41 525.80,92.35 525.40,92.30 525.00,92.25 524.60,92.20 524.20,92.15 523.80,92.09 523.40,92.04 523.00,91.99 522.60,91.94 522.20,91.88 521.80,91.83 521.40,91.78 521.00,91.73 520.60,91.67 520.20,91.62 519.80,91.57 519.40,91.52 519.00,91.46 518.60,91.41 518.20,91.36 517.80,91.31 517.40,91.25 517.00,91.20 516.60,91.15 516.20,91.10 515.80,91.05 515.40,90.99 515.00,90.94 514.60,90.89 514.20,90.84 513.80,90.78 513.40,90.73 513.00,90.68 512.60,90.63 512.20,90.57 511.80,90.52 511.40,90.47 511.00,90.42 510.60,90.36 510.20,90.31 509.80,90.26 509.40,90.21 509.00,90.15 508.60,90.10 508.20,90.05 507.80,90.00 507.40,89.95 507.00,89.89 506.60,89.84 506.20,89.79 505.80,89.74 505.40,89.68 505.00,89.63 504.60,89.58 504.20,89.53 503.50,84.00 501.60,81.10 499.90,79.80 497.60,81.70 495.60,83.40 493.60,81.70 491.70,82.70 489.70,80.80 487.00,80.10 485.10,78.10 483.10,78.40 481.80,77.50 479.80,75.80 477.80,76.80 475.80,76.10 473.90,75.80 471.50,77.80 467.90,79.40 465.30,80.80 462.60,80.90 459.50,80.80 458.30,80.80 457.10,80.80 455.90,80.80 454.70,80.80 453.50,80.80 452.30,80.80 451.10,80.80 449.90,80.80 448.70,80.80 447.50,80.80 446.30,80.80 445.10,80.80 443.90,80.80 442.70,80.80 441.50,80.80 440.30,80.80 439.10,80.80 437.90,80.80 436.70,80.80 435.50,80.80 434.30,80.80 433.10,80.80 431.90,80.80 430.70,80.80 429.50,80.80 428.30,80.80 427.10,80.80 425.90,80.80 424.70,80.80 423.50,80.80 422.30,80.80 421.10,80.80 419.90,80.80 418.70,80.80 417.50,80.80 416.30,80.80 415.10,80.80 413.90,80.80 412.70,80.80" fill="#1f77b4" fill-opacity="0.25" stroke="none"/>
<polyline points="412.70,77.13 413.90,77.54 415.10,77.70 416.30,77.61 417.50,77.68 418.70,77.66 419.90,77.16 421.10,77.33 422.30,77.38 423.50,77.32 424.70,77.37 425.90,77.31 427.10,77.22 428.30,77.50 429.50,77.16 430.70,77.19 431.90,77.02 433.10,76.48 434.30,76.28 435.50,76.45 436.70,76.36 437.90,76.21 439.10,76.38 440.30,76.60 441.50,77.13 442.70,77.17 443.90,76.85 445.10,77.15 446.30,77.17 447.50,76.99 448.70,76.89 449.90,77.13 451.10,77.12 452.30,77.28 453.50,77.93 454.70,77.86 455.90,77.77 457.10,77.83 458.30,77.35 459.50,77.31 462.60,77.30 465.30,77.20 467.90,75.80 471.50,74.20 473.90,72.20 475.80,72.50 477.80,73.20 479.80,72.20 481.80,73.90 483.10,74.80 485.10,74.50 487.00,76.50 489.70,77.20 491.70,79.10 493.60,78.10 495.60,79.80 497.60,78.10 499.90,76.20 501.60,77.50 503.50,80.40 504.20,82.84 504.60,81.66 505.00,81.72 505.40,80.40 505.80,81.30 506.20,79.81 506.60,82.77 507.00,82.98 507.40,81.92 507.80,80.32 508.20,80.91 508.60,81.42 509.00,79.51 509.40,81.86 509.80,81.37 510.20,83.23 510.60,80.91 511.00,79.39 511.40,82.40 511.80,83.97 512.20,84.59 512.60,84.88 513.00,85.25 513.40,84.05 513.80,85.51 514.20,86.05 514.60,85.10 515.00,87.46 515.40,84.93 515.80,83.68 516.20,80.84 516.60,81.30 517.00,84.45 517.40,82.44 517.80,69.80 518.20,69.80 518.60,69.80 519.00,82.95 519.40,86.87 519.80,83.17 520.20,82.97 520.60,81.62 521.00,81.75 521.40,83.89 521.80,81.26 522.20,83.23 522.60,83.72 523.00,85.72 523.40,80.98 523.80,81.93 524.20,79.41 524.60,83.33 525.00,82.62 525.40,84.29 525.80,84.21 526.20,79.79 526.60,83.10 527.00,83.91 527.40,84.66 527.80,83.48 528.20,82.44 528.60,80.95 529.00,84.83 529.40,80.62 529.80,81.96 530.20,80.34 530.60,79.76 531.00,80.27 531.40,82.43 531.80,82.33 532.20,81.20 532.60,80.52 533.00,84.77 533.40,83.18 533.80,83.83 534.20,86.62 534.60,88.02 535.00,85.58 535.40,88.64 535.80,86.90 536.20,86.84 536.60,84.73 537.00,81.64 537.40,83.36 537.80,80.37 538.20,97.50 538.60,97.50 539.00,97.50 539.40,83.05 539.80,82.17 540.20,84.69 540.60,85.65 541.00,86.74 541.40,83.19 541.80,81.66 542.20,83.22 542.60,82.69 543.00,80.44 543.40,80.46 543.80,80.48 544.20,76.00 544.60,76.00 545.00,76.00 545.40,88.26 545.80,84.80 546.20,86.11" stroke="#1f77b4" stroke-width="1.35" fill="none" stroke-linejoin="round"/>
<polyline points="412.40,74.85 413.07,74.85 413.74,74.86 414.41,74.86 415.09,74.86 415.76,74.86 416.43,74.86 417.10,74.86 417.77,74.86 418.44,74.87 419.11,74.87 419.78,74.87 420.46,74.87 421.13,74.87 421.80,74.87 422.47,74.88 423.14,74.88 423.81,74.88 424.48,74.88 425.16,74.88 425.83,74.89 426.50,74.89 427.17,74.89 427.84,74.89 428.51,74.90 429.18,74.90 429.86,74.90 430.53,74.90 431.20,74.91 431.87,74.91 432.54,74.91 433.21,74.92 433.88,74.92 434.55,74.92 435.23,74.93 435.90,74.93 436.57,74.93 437.24,74.94 437.91,74.94 438.58,74.95 439.25,74.95 439.93,74.96 440.60,74.96 441.27,74.97 441.94,74.97 442.61,74.98 443.28,74.98 443.95,74.99 444.63,75.00 445.30,75.00 445.97,75.01 446.64,75.02 447.31,75.02 447.98,75.03 448.65,75.04 449.32,75.05 450.00,75.06 450.67,75.07 451.34,75.07 452.01,75.08 452.68,75.09 453.35,75.10 454.02,75.11 454.70,75.13 455.37,75.14 456.04,75.15 456.71,75.16 457.38,75.17 458.05,75.19 458.72,75.20 459.39,75.21 460.07,75.23 460.74,75.24 461.41,75.26 462.08,75.28 462.75,75.29 463.42,75.31 464.09,75.33 464.77,75.35 465.44,75.37 466.11,75.39 466.78,75.41 467.45,75.43 468.12,75.46 468.79,75.48 469.47,75.50 470.14,75.53 470.81,75.56 471.48,75.58 472.15,75.61 472.82,75.64 473.49,75.67 474.16,75.70 474.84,75.73 475.51,75.77 476.18,75.80 476.85,75.84 477.52,75.88 478.19,75.92 478.86,75.96 479.54,76.00 480.21,76.04 480.88,76.09 481.55,76.13 482.22,76.18 482.89,76.23 483.56,76.28 484.24,76.34 484.91,76.39 485.58,76.45 486.25,76.51 486.92,76.57 487.59,76.63 488.26,76.70 488.93,76.77 489.61,76.84 490.28,76.91 490.95,76.99 491.62,77.06 492.29,77.15 492.96,77.23 493.63,77.31 494.31,77.40 494.98,77.50 495.65,77.59 496.32,77.69 496.99,77.79 497.66,77.89 498.33,78.00 499.01,78.11 499.68,78.23 500.35,78.35 501.02,78.47 501.69,78.60 502.36,78.73 503.03,78.86 503.70,79.00 504.38,79.14 505.05,79.29 505.72,79.44 506.39,79.60 507.06,79.76 507.73,79.92 508.40,80.09 509.08,80.27 509.75,80.45 510.42,80.63 511.09,80.82 511.76,81.02 512.43,81.22 513.10,81.43 513.77,81.64 514.45,81.86 515.12,82.08 515.79,82.31 516.46,82.55 517.13,82.79 517.80,83.03 518.47,83.29 519.15,83.55 519.82,83.81 520.49,84.09 521.16,84.37 521.83,84.65 522.50,84.94 523.17,85.24 523.85,85.55 524.52,85.86 525.19,86.18 525.86,86.50 526.53,86.83 527.20,87.17 527.87,87.52 528.54,87.87 529.22,88.23 529.89,88.59 530.56,88.96 531.23,89.34 531.90,89.73 532.57,90.12 533.24,90.52 533.92,90.93 534.59,91.34 535.26,91.76 535.93,92.18 536.60,92.62 537.27,93.06 537.94,93.50 538.62,93.95 539.29,94.41 539.96,94.88 540.63,95.35 541.30,95.82 541.97,96.31 542.64,96.80 543.31,97.29 543.99,97.79 544.66,98.30 545.33,98.81 546.00,99.33" stroke="#111" stroke-width="1.1" fill="none" stroke-linejoin="round" stroke-dasharray="3.2,1.8"/>
<polyline points="412.40,74.83 413.61,74.83 414.81,74.83 416.02,74.83 417.22,74.83 418.43,74.83 419.64,74.83 420.84,74.83 422.05,74.83 423.25,74.83 424.46,74.83 425.67,74.83 426.87,74.83 428.08,74.83 429.28,74.83 430.49,74.83 431.70,74.83 432.90,74.83 434.11,74.83 435.31,74.83 436.52,74.83 437.73,74.83 438.93,74.83 440.14,74.83 441.34,74.83 442.55,74.83 443.76,74.83 444.96,74.83 446.17,74.83 447.37,74.83 448.58,74.83 449.79,74.83 450.99,74.83 452.20,74.83 453.41,74.83 454.61,74.83 455.82,74.83 457.02,74.83 458.23,74.83 459.44,74.83 460.64,74.83 461.85,74.83 463.05,74.83 464.26,74.83 465.47,74.83 466.67,74.83 467.88,74.83 469.08,74.83 470.29,74.83 471.50,74.83 472.70,74.83 473.91,74.83 475.11,74.83 476.32,74.83 477.53,74.83 478.73,74.83 479.94,74.83 481.14,74.83 482.35,74.83 483.56,74.83 484.76,74.83 485.97,74.83 487.17,74.83 488.38,74.83 489.59,74.83 490.79,74.83 492.00,74.83 493.20,74.83 494.41,74.83 495.62,74.83 496.82,74.83 498.03,74.83 499.23,74.83 500.44,74.83 501.65,74.83 502.85,74.83 504.06,74.83 505.26,74.83 506.47,74.83 507.68,74.84 508.88,74.84 510.09,74.84 511.29,74.84 512.50,74.84 513.71,74.84 514.91,74.84 516.12,74.84 517.32,74.84 518.53,74.84 519.74,74.85 520.94,74.85 522.15,74.85 523.35,74.85 524.56,74.85 525.77,74.85 526.97,74.85 528.18,74.86 529.38,74.86 530.59,74.86 531.80,74.86 533.00,74.87 534.21,74.87 535.42,74.87 536.62,74.88 537.83,74.88 539.03,74.88 540.24,74.89 541.45,74.89 542.65,74.90 543.86,74.90 545.06,74.91 546.27,74.91 547.48,74.92 548.68,74.93 549.89,74.93 551.09,74.94 552.30,74.95 553.51,74.96 554.71,74.97 555.92,74.97 557.12,74.99 558.33,75.00 559.54,75.01 560.74,75.02 561.95,75.03 563.15,75.05 564.36,75.06 565.57,75.08 566.77,75.10 567.98,75.12 569.18,75.14 570.39,75.16 571.60,75.18 572.80,75.21 574.01,75.23 575.21,75.26 576.42,75.29 577.63,75.32 578.83,75.36 580.04,75.39 581.24,75.43 582.45,75.47 583.66,75.52 584.86,75.57 586.07,75.62 587.27,75.67 588.48,75.73 589.69,75.79 590.89,75.86 592.10,75.92 593.30,76.00 594.51,76.08 595.72,76.16 596.92,76.25 598.13,76.35 599.33,76.45 600.54,76.56 601.75,76.67 602.95,76.79 604.16,76.92 605.36,77.06 606.57,77.21 607.78,77.36 608.98,77.53 610.19,77.70 611.39,77.89 612.60,78.08 613.81,78.29 615.01,78.51 616.22,78.74 617.43,78.99 618.63,79.25 619.84,79.52 621.04,79.81 622.25,80.11 623.46,80.43 624.66,80.77 625.87,81.12 627.07,81.49 628.28,81.88 629.49,82.28 630.69,82.71 631.90,83.15 633.10,83.62 634.31,84.11 635.52,84.61 636.72,85.14 637.93,85.69 639.13,86.26 640.34,86.85 641.55,87.46 642.75,88.10 643.96,88.75 645.16,89.43 646.37,90.13 647.58,90.86 648.78,91.60 649.99,92.37 651.19,93.15 652.40,93.96" stroke="#444" stroke-width="1.1" fill="none" stroke-linejoin="round" stroke-dasharray="3.2,1.8" stroke-dashoffset="2.5"/>
<line x1="412.40" y1="88.21" x2="652.40" y2="88.21" stroke="#22e6f0" stroke-width="1.3"/>
<line x1="412.40" y1="101.60" x2="652.40" y2="101.60" stroke="#f04cf0" stroke-width="1.2" stroke-dasharray="5,1.4,1,1.4"/>
<polygon points="412.50,152.90 414.50,150.60 417.00,148.50 421.70,149.10 427.50,149.40 433.40,148.20 437.50,147.40 440.40,149.00 445.00,148.80 449.70,149.90 453.20,149.90 456.50,145.50 460.80,150.50 464.90,146.70 469.60,152.90 472.00,156.00 474.40,159.90 477.20,158.10 478.80,157.30 480.10,158.90 482.30,152.90 483.50,155.00 484.90,155.50 486.50,151.00 488.40,148.50 490.00,149.50 491.90,145.90 493.70,147.60 496.30,143.30 498.90,146.80 500.70,152.00 503.30,145.90 505.10,139.80 506.80,132.70 508.60,140.60 511.20,145.90 513.00,130.10 515.30,126.60 516.50,134.50 517.40,148.00 518.20,158.20 520.00,138.90 521.80,152.90 523.50,121.30 525.30,137.10 526.50,130.00 527.90,126.60 529.60,118.70 531.40,133.60 533.20,123.10 535.30,118.70 536.70,145.90 537.50,120.00 538.40,102.00 540.20,123.10 541.90,138.90 543.70,128.40 545.10,151.20 545.80,116.10 546.50,133.60 546.50,137.60 545.80,120.10 545.10,155.20 543.70,132.40 541.90,142.90 540.20,127.10 538.40,106.00 537.50,124.00 536.70,149.90 535.30,122.70 533.20,127.10 531.40,137.60 529.60,122.70 527.90,130.60 526.50,134.00 525.30,141.10 523.50,125.30 521.80,156.90 520.00,142.90 518.20,162.20 517.40,152.00 516.50,138.50 515.30,130.60 513.00,134.10 511.20,149.90 508.60,144.60 506.80,136.70 505.10,143.80 503.30,149.90 500.70,156.00 498.90,150.80 496.30,147.30 493.70,151.60 491.90,149.90 490.00,153.50 488.40,152.50 486.50,155.00 484.90,159.50 483.50,159.00 482.30,156.90 480.10,162.90 478.80,161.30 477.20,162.10 474.40,163.90 472.00,160.00 469.60,156.90 464.90,150.70 460.80,154.50 456.50,149.50 453.20,153.90 449.70,153.90 445.00,152.80 440.40,153.00 437.50,151.40 433.40,152.20 427.50,153.40 421.70,153.10 417.00,152.50 414.50,154.60 412.50,156.90" fill="#e7a3bb" fill-opacity="0.7" stroke="none"/>
<polyline points="412.50,154.90 414.50,152.60 417.00,150.50 421.70,151.10 427.50,151.40 433.40,150.20 437.50,149.40 440.40,151.00 445.00,150.80 449.70,151.90 453.20,151.90 456.50,147.50 460.80,152.50 464.90,148.70 469.60,154.90 472.00,158.00 472.48,157.97 472.96,160.31 473.44,160.01 473.92,162.00 474.40,161.90 474.80,162.57 475.20,160.65 475.60,161.94 476.00,160.00 476.40,161.01 476.80,159.69 477.20,160.10 477.60,159.25 478.00,160.58 478.40,158.64 478.80,159.30 479.23,158.95 479.67,161.08 480.10,160.90 480.54,160.62 480.98,157.72 481.42,158.09 481.86,155.64 482.30,154.90 482.90,155.63 483.50,157.00 483.97,156.77 484.43,157.89 484.90,157.50 485.30,156.75 485.70,154.36 486.10,154.82 486.50,153.00 486.98,153.11 487.45,151.01 487.92,151.90 488.40,150.50 488.80,151.39 489.20,150.70 489.60,152.11 490.00,151.50 490.48,151.42 490.95,149.05 491.42,149.47 491.90,147.90 492.35,149.09 492.80,148.40 493.25,149.99 493.70,149.60 494.13,149.36 494.57,147.81 495.00,147.94 495.43,145.92 495.87,146.46 496.30,145.30 496.73,146.70 497.17,145.48 497.60,147.70 498.03,147.07 498.47,148.85 498.90,148.80 499.35,150.88 499.80,150.56 500.25,153.43 500.70,154.00 500.96,155.04 501.22,152.00 501.48,153.06 501.74,150.51 502.00,152.75 502.26,149.21 502.52,151.26 502.78,148.44 503.04,149.26 503.30,147.90 503.56,148.10 503.81,144.46 504.07,147.01 504.33,142.71 504.59,144.65 504.84,141.22 505.10,141.80 505.38,139.24 505.67,140.81 505.95,137.41 506.23,139.10 506.52,134.92 506.80,134.70 507.06,133.66 507.31,139.06 507.57,137.40 507.83,140.58 508.09,138.42 508.34,143.62 508.60,142.60 508.86,144.48 509.12,142.59 509.38,145.17 509.64,142.60 509.90,146.23 510.16,144.22 510.42,147.19 510.68,145.37 510.94,149.50 511.20,147.90 511.46,146.51 511.71,141.46 511.97,142.57 512.23,136.85 512.49,138.36 512.74,133.34 513.00,132.10 513.26,129.67 513.51,132.73 513.77,130.24 514.02,131.21 514.28,128.74 514.53,131.12 514.79,128.25 515.04,129.87 515.30,128.60 515.60,131.76 515.90,131.40 516.20,136.48 516.50,136.50 516.80,141.66 517.10,143.68 517.40,150.00 517.67,151.45 517.93,157.64 518.20,160.20 518.46,159.53 518.71,152.93 518.97,153.98 519.23,148.07 519.49,147.65 519.74,142.39 520.00,140.90 520.26,140.70 520.51,146.47 520.77,145.68 521.03,150.22 521.29,149.82 521.54,153.63 521.80,154.90 522.08,150.45 522.37,142.42 522.65,140.20 522.93,131.73 523.22,129.61 523.50,123.30 523.76,126.63 524.01,126.37 524.27,131.02 524.53,131.09 524.79,136.72 525.04,134.82 525.30,139.10 525.60,135.41 525.90,137.18 526.20,131.71 526.50,132.00 526.78,129.21 527.06,132.15 527.34,128.19 527.62,130.02 527.90,128.60 528.18,129.07 528.47,124.61 528.75,126.47 529.03,121.68 529.32,123.12 529.60,120.70 529.86,123.56 530.11,122.87 530.37,127.94 530.63,127.83 530.89,132.53 531.14,132.35 531.40,135.60 531.66,132.30 531.91,134.76 532.17,130.04 532.43,131.27 532.69,126.98 532.94,128.12 533.20,125.10 533.46,125.82 533.73,123.08 533.99,124.36 534.25,121.92 534.51,124.41 534.77,120.37 535.04,122.25 535.30,120.70 535.58,128.20 535.86,129.39 536.14,138.37 536.42,141.59 536.70,147.90 536.97,138.31 537.23,131.43 537.50,122.00 537.80,117.19 538.10,109.20 538.40,104.00 538.66,105.99 538.91,111.09 539.17,111.51 539.43,118.08 539.69,117.26 539.94,123.38 540.20,125.10 540.48,129.03 540.77,128.90 541.05,134.24 541.33,134.45 541.62,139.02 541.90,140.90 542.16,140.49 542.41,135.75 542.67,137.25 542.93,133.46 543.19,135.03 543.44,129.91 543.70,130.40 543.98,133.97 544.26,140.60 544.54,143.04 544.82,149.92 545.10,153.20 545.45,137.00 545.80,118.10 546.15,128.98 546.50,135.60" stroke="#a0134b" stroke-width="1.8" fill="none" stroke-linejoin="round"/>
<ellipse cx="492.8" cy="149.8" rx="16" ry="10.2" transform="rotate(28 492.8 149.8)" fill="none" stroke="#777" stroke-width="1.2" stroke-dasharray="3,1.6"/>
<line x1="498.00" y1="161.60" x2="552.00" y2="161.60" stroke="#111" stroke-width="1.3"/>
<path d="M550.4,158.3 L557.8,161.6 L550.4,164.9 Z" stroke="none" stroke-width="1" fill="#111"/>
</g>
<text x="437.20" y="61.60" font-size="7.74" fill="#1f77b4" textLength="48.05" lengthAdjust="spacingAndGlyphs">Undoped FLS</text>
<text x="577.40" y="52.40" font-size="7.74" fill="#ff7f0e" textLength="13.99" lengthAdjust="spacingAndGlyphs">Slot</text>
<text x="419.00" y="95.00" font-size="7.8" fill="#666" textLength="16.70" lengthAdjust="spacingAndGlyphs">-3dB</text>
<text x="419.00" y="112.50" font-size="7.8" fill="#666" textLength="16.70" lengthAdjust="spacingAndGlyphs">-6dB</text>
<text x="585.20" y="92.00" font-size="8.6" fill="#555" textLength="39.50" lengthAdjust="spacingAndGlyphs" font-style="italic" transform="rotate(9.5 585.2 92.0)">Doped FLS</text>
<line x1="412.40" y1="30.20" x2="652.40" y2="30.20" stroke="#222" stroke-width="1.0"/>
<line x1="412.40" y1="208.70" x2="652.40" y2="208.70" stroke="#888" stroke-width="1.5"/>
<line x1="412.40" y1="30.20" x2="412.40" y2="208.70" stroke="#222" stroke-width="1.2"/>
<line x1="652.40" y1="30.20" x2="652.40" y2="208.70" stroke="#222" stroke-width="1.2"/>
<line x1="412.4" y1="208.70" x2="416.59999999999997" y2="208.70" stroke="#1f77b4" stroke-width="1.2"/><line x1="412.4" y1="204.24" x2="414.4" y2="204.24" stroke="#1f77b4" stroke-width="1.0"/><line x1="412.4" y1="199.78" x2="414.4" y2="199.78" stroke="#1f77b4" stroke-width="1.0"/><line x1="412.4" y1="195.31" x2="414.4" y2="195.31" stroke="#1f77b4" stroke-width="1.0"/><line x1="412.4" y1="190.85" x2="414.4" y2="190.85" stroke="#1f77b4" stroke-width="1.0"/><line x1="412.4" y1="186.39" x2="416.59999999999997" y2="186.39" stroke="#1f77b4" stroke-width="1.2"/><line x1="412.4" y1="181.93" x2="414.4" y2="181.93" stroke="#1f77b4" stroke-width="1.0"/><line x1="412.4" y1="177.46" x2="414.4" y2="177.46" stroke="#1f77b4" stroke-width="1.0"/><line x1="412.4" y1="173.00" x2="414.4" y2="173.00" stroke="#1f77b4" stroke-width="1.0"/><line x1="412.4" y1="168.54" x2="414.4" y2="168.54" stroke="#1f77b4" stroke-width="1.0"/><line x1="412.4" y1="164.07" x2="416.59999999999997" y2="164.07" stroke="#1f77b4" stroke-width="1.2"/><line x1="412.4" y1="159.61" x2="414.4" y2="159.61" stroke="#1f77b4" stroke-width="1.0"/><line x1="412.4" y1="155.15" x2="414.4" y2="155.15" stroke="#1f77b4" stroke-width="1.0"/><line x1="412.4" y1="150.69" x2="414.4" y2="150.69" stroke="#1f77b4" stroke-width="1.0"/><line x1="412.4" y1="146.22" x2="414.4" y2="146.22" stroke="#1f77b4" stroke-width="1.0"/><line x1="412.4" y1="141.76" x2="416.59999999999997" y2="141.76" stroke="#1f77b4" stroke-width="1.2"/><line x1="412.4" y1="137.30" x2="414.4" y2="137.30" stroke="#1f77b4" stroke-width="1.0"/><line x1="412.4" y1="132.84" x2="414.4" y2="132.84" stroke="#1f77b4" stroke-width="1.0"/><line x1="412.4" y1="128.38" x2="414.4" y2="128.38" stroke="#1f77b4" stroke-width="1.0"/><line x1="412.4" y1="123.91" x2="414.4" y2="123.91" stroke="#1f77b4" stroke-width="1.0"/><line x1="412.4" y1="119.45" x2="416.59999999999997" y2="119.45" stroke="#1f77b4" stroke-width="1.2"/><line x1="412.4" y1="114.99" x2="414.4" y2="114.99" stroke="#1f77b4" stroke-width="1.0"/><line x1="412.4" y1="110.53" x2="414.4" y2="110.53" stroke="#1f77b4" stroke-width="1.0"/><line x1="412.4" y1="106.06" x2="414.4" y2="106.06" stroke="#1f77b4" stroke-width="1.0"/><line x1="412.4" y1="101.60" x2="414.4" y2="101.60" stroke="#1f77b4" stroke-width="1.0"/><line x1="412.4" y1="97.14" x2="416.59999999999997" y2="97.14" stroke="#1f77b4" stroke-width="1.2"/><line x1="412.4" y1="92.68" x2="414.4" y2="92.68" stroke="#1f77b4" stroke-width="1.0"/><line x1="412.4" y1="88.21" x2="414.4" y2="88.21" stroke="#1f77b4" stroke-width="1.0"/><line x1="412.4" y1="83.75" x2="414.4" y2="83.75" stroke="#1f77b4" stroke-width="1.0"/><line x1="412.4" y1="79.29" x2="414.4" y2="79.29" stroke="#1f77b4" stroke-width="1.0"/><line x1="412.4" y1="74.83" x2="416.59999999999997" y2="74.83" stroke="#1f77b4" stroke-width="1.2"/><line x1="412.4" y1="70.36" x2="414.4" y2="70.36" stroke="#1f77b4" stroke-width="1.0"/><line x1="412.4" y1="65.90" x2="414.4" y2="65.90" stroke="#1f77b4" stroke-width="1.0"/><line x1="412.4" y1="61.44" x2="414.4" y2="61.44" stroke="#1f77b4" stroke-width="1.0"/><line x1="412.4" y1="56.98" x2="414.4" y2="56.98" stroke="#1f77b4" stroke-width="1.0"/><line x1="412.4" y1="52.51" x2="416.59999999999997" y2="52.51" stroke="#1f77b4" stroke-width="1.2"/><line x1="412.4" y1="48.05" x2="414.4" y2="48.05" stroke="#1f77b4" stroke-width="1.0"/><line x1="412.4" y1="43.59" x2="414.4" y2="43.59" stroke="#1f77b4" stroke-width="1.0"/><line x1="412.4" y1="39.12" x2="414.4" y2="39.12" stroke="#1f77b4" stroke-width="1.0"/><line x1="412.4" y1="34.66" x2="414.4" y2="34.66" stroke="#1f77b4" stroke-width="1.0"/><line x1="412.4" y1="30.20" x2="416.59999999999997" y2="30.20" stroke="#1f77b4" stroke-width="1.2"/><line x1="652.4" y1="208.70" x2="648.1999999999999" y2="208.70" stroke="#a0134b" stroke-width="1.2"/><line x1="652.4" y1="201.56" x2="650.4" y2="201.56" stroke="#a0134b" stroke-width="1.0"/><line x1="652.4" y1="194.42" x2="650.4" y2="194.42" stroke="#a0134b" stroke-width="1.0"/><line x1="652.4" y1="187.28" x2="650.4" y2="187.28" stroke="#a0134b" stroke-width="1.0"/><line x1="652.4" y1="180.14" x2="650.4" y2="180.14" stroke="#a0134b" stroke-width="1.0"/><line x1="652.4" y1="173.00" x2="648.1999999999999" y2="173.00" stroke="#a0134b" stroke-width="1.2"/><line x1="652.4" y1="165.86" x2="650.4" y2="165.86" stroke="#a0134b" stroke-width="1.0"/><line x1="652.4" y1="158.72" x2="650.4" y2="158.72" stroke="#a0134b" stroke-width="1.0"/><line x1="652.4" y1="151.58" x2="650.4" y2="151.58" stroke="#a0134b" stroke-width="1.0"/><line x1="652.4" y1="144.44" x2="650.4" y2="144.44" stroke="#a0134b" stroke-width="1.0"/><line x1="652.4" y1="137.30" x2="648.1999999999999" y2="137.30" stroke="#a0134b" stroke-width="1.2"/><line x1="652.4" y1="130.16" x2="650.4" y2="130.16" stroke="#a0134b" stroke-width="1.0"/><line x1="652.4" y1="123.02" x2="650.4" y2="123.02" stroke="#a0134b" stroke-width="1.0"/><line x1="652.4" y1="115.88" x2="650.4" y2="115.88" stroke="#a0134b" stroke-width="1.0"/><line x1="652.4" y1="108.74" x2="650.4" y2="108.74" stroke="#a0134b" stroke-width="1.0"/><line x1="652.4" y1="101.60" x2="648.1999999999999" y2="101.60" stroke="#a0134b" stroke-width="1.2"/><line x1="652.4" y1="94.46" x2="650.4" y2="94.46" stroke="#a0134b" stroke-width="1.0"/><line x1="652.4" y1="87.32" x2="650.4" y2="87.32" stroke="#a0134b" stroke-width="1.0"/><line x1="652.4" y1="80.18" x2="650.4" y2="80.18" stroke="#a0134b" stroke-width="1.0"/><line x1="652.4" y1="73.04" x2="650.4" y2="73.04" stroke="#a0134b" stroke-width="1.0"/><line x1="652.4" y1="65.90" x2="648.1999999999999" y2="65.90" stroke="#a0134b" stroke-width="1.2"/><line x1="652.4" y1="58.76" x2="650.4" y2="58.76" stroke="#a0134b" stroke-width="1.0"/><line x1="652.4" y1="51.62" x2="650.4" y2="51.62" stroke="#a0134b" stroke-width="1.0"/><line x1="652.4" y1="44.48" x2="650.4" y2="44.48" stroke="#a0134b" stroke-width="1.0"/><line x1="652.4" y1="37.34" x2="650.4" y2="37.34" stroke="#a0134b" stroke-width="1.0"/><line x1="652.4" y1="30.20" x2="648.1999999999999" y2="30.20" stroke="#a0134b" stroke-width="1.2"/><line x1="412.40" y1="208.7" x2="412.40" y2="204.5" stroke="#111" stroke-width="1.1"/><line x1="437.27" y1="208.7" x2="437.27" y2="206.7" stroke="#111" stroke-width="1.1"/><line x1="451.81" y1="208.7" x2="451.81" y2="206.7" stroke="#111" stroke-width="1.1"/><line x1="462.13" y1="208.7" x2="462.13" y2="206.7" stroke="#111" stroke-width="1.1"/><line x1="470.13" y1="208.7" x2="470.13" y2="206.7" stroke="#111" stroke-width="1.1"/><line x1="476.68" y1="208.7" x2="476.68" y2="206.7" stroke="#111" stroke-width="1.1"/><line x1="482.21" y1="208.7" x2="482.21" y2="206.7" stroke="#111" stroke-width="1.1"/><line x1="487.00" y1="208.7" x2="487.00" y2="206.7" stroke="#111" stroke-width="1.1"/><line x1="491.22" y1="208.7" x2="491.22" y2="206.7" stroke="#111" stroke-width="1.1"/><line x1="495.00" y1="208.7" x2="495.00" y2="204.5" stroke="#111" stroke-width="1.1"/><line x1="519.87" y1="208.7" x2="519.87" y2="206.7" stroke="#111" stroke-width="1.1"/><line x1="534.41" y1="208.7" x2="534.41" y2="206.7" stroke="#111" stroke-width="1.1"/><line x1="544.73" y1="208.7" x2="544.73" y2="206.7" stroke="#111" stroke-width="1.1"/><line x1="552.73" y1="208.7" x2="552.73" y2="206.7" stroke="#111" stroke-width="1.1"/><line x1="559.28" y1="208.7" x2="559.28" y2="206.7" stroke="#111" stroke-width="1.1"/><line x1="564.81" y1="208.7" x2="564.81" y2="206.7" stroke="#111" stroke-width="1.1"/><line x1="569.60" y1="208.7" x2="569.60" y2="206.7" stroke="#111" stroke-width="1.1"/><line x1="573.82" y1="208.7" x2="573.82" y2="206.7" stroke="#111" stroke-width="1.1"/><line x1="577.60" y1="208.7" x2="577.60" y2="204.5" stroke="#111" stroke-width="1.1"/><line x1="602.47" y1="208.7" x2="602.47" y2="206.7" stroke="#111" stroke-width="1.1"/><line x1="617.01" y1="208.7" x2="617.01" y2="206.7" stroke="#111" stroke-width="1.1"/><line x1="627.33" y1="208.7" x2="627.33" y2="206.7" stroke="#111" stroke-width="1.1"/><line x1="635.33" y1="208.7" x2="635.33" y2="206.7" stroke="#111" stroke-width="1.1"/><line x1="641.88" y1="208.7" x2="641.88" y2="206.7" stroke="#111" stroke-width="1.1"/><line x1="647.41" y1="208.7" x2="647.41" y2="206.7" stroke="#111" stroke-width="1.1"/><line x1="652.20" y1="208.7" x2="652.20" y2="206.7" stroke="#111" stroke-width="1.1"/>
<text x="410.20" y="212.95" font-size="10.6" fill="#1f77b4" text-anchor="end" textLength="21.10" lengthAdjust="spacingAndGlyphs">−30</text>
<text x="410.20" y="190.64" font-size="10.6" fill="#1f77b4" text-anchor="end" textLength="21.10" lengthAdjust="spacingAndGlyphs">−25</text>
<text x="410.20" y="168.32" font-size="10.6" fill="#1f77b4" text-anchor="end" textLength="21.10" lengthAdjust="spacingAndGlyphs">−20</text>
<text x="410.20" y="146.01" font-size="10.6" fill="#1f77b4" text-anchor="end" textLength="21.10" lengthAdjust="spacingAndGlyphs">−15</text>
<text x="410.20" y="123.70" font-size="10.6" fill="#1f77b4" text-anchor="end" textLength="21.10" lengthAdjust="spacingAndGlyphs">−10</text>
<text x="410.20" y="101.39" font-size="10.6" fill="#1f77b4" text-anchor="end" textLength="14.74" lengthAdjust="spacingAndGlyphs">−5</text>
<text x="410.20" y="79.08" font-size="10.6" fill="#1f77b4" text-anchor="end" textLength="6.36" lengthAdjust="spacingAndGlyphs">0</text>
<text x="410.20" y="56.76" font-size="10.6" fill="#1f77b4" text-anchor="end" textLength="6.36" lengthAdjust="spacingAndGlyphs">5</text>
<text x="410.20" y="34.45" font-size="10.6" fill="#1f77b4" text-anchor="end" textLength="12.72" lengthAdjust="spacingAndGlyphs">10</text>
<text x="654.40" y="212.95" font-size="10.6" fill="#a0134b" textLength="12.72" lengthAdjust="spacingAndGlyphs">15</text>
<text x="654.40" y="177.25" font-size="10.6" fill="#a0134b" textLength="12.72" lengthAdjust="spacingAndGlyphs">20</text>
<text x="654.40" y="141.55" font-size="10.6" fill="#a0134b" textLength="12.72" lengthAdjust="spacingAndGlyphs">25</text>
<text x="654.40" y="105.85" font-size="10.6" fill="#a0134b" textLength="12.72" lengthAdjust="spacingAndGlyphs">30</text>
<text x="654.40" y="70.15" font-size="10.6" fill="#a0134b" textLength="12.72" lengthAdjust="spacingAndGlyphs">35</text>
<text x="654.40" y="34.45" font-size="10.6" fill="#a0134b" textLength="12.72" lengthAdjust="spacingAndGlyphs">40</text>
<text x="400.50" y="219.00" font-size="10.6" fill="#111" textLength="12.20" lengthAdjust="spacingAndGlyphs">10</text>
<text x="413.60" y="215.20" font-size="7.4" fill="#111" textLength="9.00" lengthAdjust="spacingAndGlyphs">−1</text>
<text x="486.20" y="219.00" font-size="10.6" fill="#111" textLength="12.20" lengthAdjust="spacingAndGlyphs">10</text>
<text x="499.30" y="215.20" font-size="7.4" fill="#111" textLength="4.40" lengthAdjust="spacingAndGlyphs">0</text>
<text x="568.80" y="219.00" font-size="10.6" fill="#111" textLength="12.20" lengthAdjust="spacingAndGlyphs">10</text>
<text x="581.90" y="215.20" font-size="7.4" fill="#111" textLength="4.40" lengthAdjust="spacingAndGlyphs">1</text>
<text x="490.00" y="231.80" font-size="10.6" fill="#111" textLength="84.11" lengthAdjust="spacingAndGlyphs">Frequency (GHz)</text>
<text transform="translate(383.8 139.6) rotate(-90)" font-size="10.6" fill="#1f77b4" textLength="39.6" lengthAdjust="spacingAndGlyphs"><tspan font-style="italic">S</tspan><tspan font-size="7.4" dy="2.0">21</tspan><tspan dy="-2.0"> (dB)</tspan></text>
<text transform="translate(678.0 147.6) rotate(-90)" font-size="10.6" fill="#a0134b" textLength="56.6" lengthAdjust="spacingAndGlyphs"><tspan font-style="italic">V</tspan><tspan font-size="7.4" dy="2.0" font-style="italic">π</tspan><tspan dy="-2.0" font-style="italic">L</tspan><tspan> (V.mm)</tspan></text>
<text x="363.90" y="262.90" font-size="11.8" fill="#000" font-weight="bold">e</text>
<defs><clipPath id="ce"><rect x="412.5" y="269.8" width="241.10000000000002" height="179.59999999999997"/></clipPath></defs>
<line x1="416.50" y1="269.8" x2="416.50" y2="449.4" stroke="#c6c6c6" stroke-width="1"/><line x1="433.50" y1="269.8" x2="433.50" y2="449.4" stroke="#b8b8b8" stroke-width="1"/><line x1="449.50" y1="269.8" x2="449.50" y2="449.4" stroke="#c6c6c6" stroke-width="1"/><line x1="466.50" y1="269.8" x2="466.50" y2="449.4" stroke="#c6c6c6" stroke-width="1"/><line x1="483.50" y1="269.8" x2="483.50" y2="449.4" stroke="#c6c6c6" stroke-width="1"/><line x1="499.50" y1="269.8" x2="499.50" y2="449.4" stroke="#b8b8b8" stroke-width="1"/><line x1="516.50" y1="269.8" x2="516.50" y2="449.4" stroke="#c6c6c6" stroke-width="1"/><line x1="532.50" y1="269.8" x2="532.50" y2="449.4" stroke="#c6c6c6" stroke-width="1"/><line x1="549.50" y1="269.8" x2="549.50" y2="449.4" stroke="#c6c6c6" stroke-width="1"/><line x1="566.50" y1="269.8" x2="566.50" y2="449.4" stroke="#b8b8b8" stroke-width="1"/><line x1="582.50" y1="269.8" x2="582.50" y2="449.4" stroke="#c6c6c6" stroke-width="1"/><line x1="599.50" y1="269.8" x2="599.50" y2="449.4" stroke="#c6c6c6" stroke-width="1"/><line x1="616.50" y1="269.8" x2="616.50" y2="449.4" stroke="#c6c6c6" stroke-width="1"/><line x1="632.50" y1="269.8" x2="632.50" y2="449.4" stroke="#b8b8b8" stroke-width="1"/><line x1="649.50" y1="269.8" x2="649.50" y2="449.4" stroke="#c6c6c6" stroke-width="1"/><line x1="412.5" y1="444.50" x2="653.6" y2="444.50" stroke="#dadada" stroke-width="1"/><line x1="412.5" y1="440.50" x2="653.6" y2="440.50" stroke="#dadada" stroke-width="1"/><line x1="412.5" y1="435.50" x2="653.6" y2="435.50" stroke="#dadada" stroke-width="1"/><line x1="412.5" y1="431.50" x2="653.6" y2="431.50" stroke="#dadada" stroke-width="1"/><line x1="412.5" y1="426.50" x2="653.6" y2="426.50" stroke="#dadada" stroke-width="1"/><line x1="412.5" y1="422.50" x2="653.6" y2="422.50" stroke="#dadada" stroke-width="1"/><line x1="412.5" y1="417.50" x2="653.6" y2="417.50" stroke="#dadada" stroke-width="1"/><line x1="412.5" y1="413.50" x2="653.6" y2="413.50" stroke="#dadada" stroke-width="1"/><line x1="412.5" y1="408.50" x2="653.6" y2="408.50" stroke="#dadada" stroke-width="1"/><line x1="412.5" y1="404.50" x2="653.6" y2="404.50" stroke="#dadada" stroke-width="1"/><line x1="412.5" y1="400.50" x2="653.6" y2="400.50" stroke="#dadada" stroke-width="1"/><line x1="412.5" y1="395.50" x2="653.6" y2="395.50" stroke="#dadada" stroke-width="1"/><line x1="412.5" y1="391.50" x2="653.6" y2="391.50" stroke="#dadada" stroke-width="1"/><line x1="412.5" y1="386.50" x2="653.6" y2="386.50" stroke="#dadada" stroke-width="1"/><line x1="412.5" y1="382.50" x2="653.6" y2="382.50" stroke="#dadada" stroke-width="1"/><line x1="412.5" y1="377.50" x2="653.6" y2="377.50" stroke="#dadada" stroke-width="1"/><line x1="412.5" y1="373.50" x2="653.6" y2="373.50" stroke="#dadada" stroke-width="1"/><line x1="412.5" y1="368.50" x2="653.6" y2="368.50" stroke="#dadada" stroke-width="1"/><line x1="412.5" y1="364.50" x2="653.6" y2="364.50" stroke="#dadada" stroke-width="1"/><line x1="412.5" y1="359.50" x2="653.6" y2="359.50" stroke="#dadada" stroke-width="1"/><line x1="412.5" y1="355.50" x2="653.6" y2="355.50" stroke="#dadada" stroke-width="1"/><line x1="412.5" y1="350.50" x2="653.6" y2="350.50" stroke="#dadada" stroke-width="1"/><line x1="412.5" y1="346.50" x2="653.6" y2="346.50" stroke="#dadada" stroke-width="1"/><line x1="412.5" y1="341.50" x2="653.6" y2="341.50" stroke="#dadada" stroke-width="1"/><line x1="412.5" y1="337.50" x2="653.6" y2="337.50" stroke="#dadada" stroke-width="1"/><line x1="412.5" y1="332.50" x2="653.6" y2="332.50" stroke="#dadada" stroke-width="1"/><line x1="412.5" y1="328.50" x2="653.6" y2="328.50" stroke="#dadada" stroke-width="1"/><line x1="412.5" y1="323.50" x2="653.6" y2="323.50" stroke="#dadada" stroke-width="1"/><line x1="412.5" y1="319.50" x2="653.6" y2="319.50" stroke="#dadada" stroke-width="1"/><line x1="412.5" y1="314.50" x2="653.6" y2="314.50" stroke="#dadada" stroke-width="1"/><line x1="412.5" y1="310.50" x2="653.6" y2="310.50" stroke="#dadada" stroke-width="1"/><line x1="412.5" y1="305.50" x2="653.6" y2="305.50" stroke="#dadada" stroke-width="1"/><line x1="412.5" y1="301.50" x2="653.6" y2="301.50" stroke="#dadada" stroke-width="1"/><line x1="412.5" y1="296.50" x2="653.6" y2="296.50" stroke="#dadada" stroke-width="1"/><line x1="412.5" y1="292.50" x2="653.6" y2="292.50" stroke="#dadada" stroke-width="1"/><line x1="412.5" y1="287.50" x2="653.6" y2="287.50" stroke="#dadada" stroke-width="1"/><line x1="412.5" y1="283.50" x2="653.6" y2="283.50" stroke="#dadada" stroke-width="1"/><line x1="412.5" y1="278.50" x2="653.6" y2="278.50" stroke="#dadada" stroke-width="1"/><line x1="412.5" y1="274.50" x2="653.6" y2="274.50" stroke="#dadada" stroke-width="1"/>
<g clip-path="url(#ce)">
<line x1="415.90" y1="287.20" x2="526.00" y2="287.20" stroke="#222" stroke-width="1.1" stroke-dasharray="4,2.6"/>
<line x1="415.90" y1="340.40" x2="518.50" y2="340.40" stroke="#222" stroke-width="1.1" stroke-dasharray="4,2.6"/>
<line x1="415.90" y1="343.20" x2="544.50" y2="343.20" stroke="#222" stroke-width="1.1" stroke-dasharray="4,2.6"/>
<polyline points="422.70,415.40 423.35,418.27 424.00,419.00 425.00,421.00 425.75,418.25 426.50,418.00 427.25,420.63 428.00,427.00 428.67,423.24 429.33,422.83 430.00,419.00 430.75,421.80 431.50,422.00 432.25,422.11 433.00,421.00 433.75,420.17 434.50,417.00 435.25,418.87 436.00,418.00 436.67,420.65 437.33,419.54 438.00,421.00 438.67,421.18 439.33,423.45 440.00,424.00 440.67,428.34 441.33,427.85 442.00,432.00 442.75,426.13 443.50,421.00 444.25,418.53 445.00,420.00 446.00,426.00 447.00,436.00 448.00,448.40 449.00,430.00 450.00,420.00 450.75,423.44 451.50,423.00 452.25,421.91 453.00,418.00 453.67,421.01 454.33,420.77 455.00,423.00 455.75,420.67 456.50,419.00 457.25,415.30 458.00,414.00 459.00,420.00 460.00,426.00 460.67,422.93 461.33,421.29 462.00,418.00 462.75,420.21 463.50,421.00 464.25,422.35 465.00,423.00 465.67,421.09 466.33,415.95 467.00,414.00 467.75,414.77 468.50,419.00 469.25,417.32 470.00,418.00 471.00,425.00 472.00,432.00 473.00,424.00 474.00,418.00 474.67,415.94 475.33,417.82 476.00,416.00 476.67,419.76 477.33,419.59 478.00,423.00 478.67,421.23 479.33,423.00 480.00,420.00 480.67,421.99 481.33,418.27 482.00,420.00 483.00,431.00 483.80,443.40 484.50,428.00 485.25,424.50 486.00,418.00 486.75,416.84 487.50,414.00 488.25,415.19 489.00,415.00 489.75,417.79 490.50,419.00 491.25,418.52 492.00,417.20 492.85,415.10 493.70,409.80 494.30,411.51 494.90,409.53 495.50,412.00 496.13,410.91 496.77,413.66 497.40,411.60 498.20,411.04 499.00,407.00 499.70,407.63 500.40,407.01 501.10,408.00 501.73,407.82 502.37,412.43 503.00,413.00 503.60,414.50 504.20,411.09 504.80,411.60 505.65,407.88 506.50,405.00 507.20,402.76 507.90,404.89 508.60,402.40 509.23,404.03 509.87,403.69 510.50,405.00 511.40,401.88 512.30,400.50 513.05,400.31 513.80,404.00 514.40,405.31 515.00,409.80 516.50,401.00 517.80,396.80 519.70,389.40 520.60,376.40 521.50,359.70 523.00,346.70 524.30,340.20 526.20,342.10 527.70,350.40 529.00,356.00 529.90,348.60 530.80,333.70 531.70,322.00 532.40,310.00 533.10,299.70 534.20,293.50 535.50,290.00 537.00,288.00 538.40,287.30 539.80,287.80 541.00,289.50 542.30,292.50 543.30,295.30 543.90,299.70 544.80,310.00 545.70,320.00 546.60,330.00 547.50,341.10 549.00,346.70 550.20,344.50 550.90,343.00 552.00,343.50 553.10,344.80 554.00,349.00 554.90,356.00 555.90,363.00 556.80,370.80 557.70,375.00 558.60,378.20 560.50,382.00 562.40,385.70 564.20,391.00 566.10,396.80 567.10,400.00 567.90,404.20 568.80,415.30 569.50,405.00 570.60,413.40 571.60,396.80 572.50,403.00 573.50,411.60 574.15,409.30 574.80,406.00 575.40,408.22 576.00,409.00 576.60,407.07 577.20,404.20 578.10,407.00 579.00,409.00 579.63,410.92 580.27,408.93 580.90,409.80 581.50,406.95 582.10,407.66 582.70,405.00 583.33,408.46 583.97,409.12 584.60,413.50 585.45,414.73 586.30,417.00 586.97,415.04 587.63,416.36 588.30,415.30 589.15,414.17 590.00,411.00 590.77,413.26 591.53,413.44 592.30,415.80 593.15,411.95 594.00,412.00 594.75,413.83 595.50,419.00 596.30,419.58 597.10,421.80 597.73,418.06 598.37,418.59 599.00,416.00 599.75,415.47 600.50,413.00 601.25,417.75 602.00,419.00 602.77,419.72 603.53,417.20 604.30,417.00 605.15,413.52 606.00,414.00 606.67,415.67 607.33,419.41 608.00,421.00 608.75,420.11 609.50,416.00 610.20,418.39 610.90,418.26 611.60,420.60 612.23,418.98 612.87,418.65 613.50,417.00 614.25,416.29 615.00,413.00 615.70,415.11 616.40,415.80 617.20,419.72 618.00,421.00 618.67,420.60 619.33,417.26 620.00,417.00 620.75,418.07 621.50,423.00 622.20,422.28 622.90,425.08 623.60,424.20 624.30,422.87 625.00,418.00 625.75,420.61 626.50,422.00 627.25,420.06 628.00,417.00 628.75,422.84 629.50,425.00 630.15,430.49 630.80,432.60 631.40,427.52 632.00,421.00 632.75,420.12 633.50,418.00 634.25,422.06 635.00,423.00 635.70,418.20 636.35,415.20 637.00,416.00 637.75,417.37 638.50,420.00 639.17,416.28 639.83,418.20 640.50,414.60 641.50,419.00 642.20,418.47 642.90,420.60 643.30,412.00" stroke="#1f77b4" stroke-width="1.45" fill="none" stroke-linejoin="round"/>
<polyline points="411.50,432.95 412.10,432.87 412.70,432.79 413.30,432.71 413.90,432.63 414.50,432.55 415.10,432.47 415.70,432.38 416.30,432.30 416.90,432.22 417.50,432.13 418.10,432.05 418.70,431.96 419.30,431.88 419.90,431.79 420.50,431.70 421.10,431.62 421.70,431.53 422.30,431.44 422.90,431.35 423.50,431.26 424.10,431.18 424.70,431.09 425.30,431.00 425.90,430.90 426.50,430.81 427.10,430.72 427.70,430.63 428.30,430.54 428.90,430.44 429.50,430.35 430.10,430.25 430.70,430.16 431.30,430.06 431.90,429.97 432.50,429.87 433.10,429.77 433.70,429.67 434.30,429.57 434.90,429.48 435.50,429.38 436.10,429.28 436.70,429.17 437.30,429.07 437.90,428.97 438.50,428.87 439.10,428.77 439.70,428.66 440.30,428.56 440.90,428.45 441.50,428.35 442.10,428.24 442.70,428.13 443.30,428.02 443.90,427.92 444.50,427.81 445.10,427.70 445.70,427.59 446.30,427.47 446.90,427.36 447.50,427.25 448.10,427.14 448.70,427.02 449.30,426.91 449.90,426.79 450.50,426.67 451.10,426.56 451.70,426.44 452.30,426.32 452.90,426.20 453.50,426.08 454.10,425.96 454.70,425.84 455.30,425.72 455.90,425.59 456.50,425.47 457.10,425.34 457.70,425.22 458.30,425.09 458.90,424.96 459.50,424.83 460.10,424.70 460.70,424.57 461.30,424.44 461.90,424.31 462.50,424.17 463.10,424.04 463.70,423.90 464.30,423.76 464.90,423.63 465.50,423.49 466.10,423.35 466.70,423.21 467.30,423.06 467.90,422.92 468.50,422.78 469.10,422.63 469.70,422.48 470.30,422.34 470.90,422.19 471.50,422.04 472.10,421.88 472.70,421.73 473.30,421.57 473.90,421.42 474.50,421.26 475.10,421.10 475.70,420.94 476.30,420.78 476.90,420.61 477.50,420.45 478.10,420.28 478.70,420.11 479.30,419.94 479.90,419.77 480.50,419.59 481.10,419.42 481.70,419.24 482.30,419.06 482.90,418.88 483.50,418.69 484.10,418.50 484.70,418.31 485.30,418.12 485.90,417.93 486.50,417.73 487.10,417.53 487.70,417.32 488.30,417.12 488.90,416.91 489.50,416.69 490.10,416.48 490.70,416.26 491.30,416.03 491.90,415.80 492.50,415.57 493.10,415.33 493.70,415.09 494.30,414.85 494.90,414.59 495.50,414.33 496.10,414.07 496.70,413.80 497.30,413.52 497.90,413.24 498.50,412.95 499.10,412.64 499.70,412.33 500.30,412.02 500.90,411.69 501.50,411.34 502.10,410.99 502.70,410.63 503.30,410.25 503.90,409.85 504.50,409.44 505.10,409.01 505.70,408.56 506.30,408.09 506.90,407.59 507.50,407.07 508.10,406.52 508.70,405.93 509.30,405.31 509.90,404.65 510.50,403.95 511.10,403.20 511.70,402.39 512.30,401.52 512.90,400.58 513.50,399.56 514.10,398.46 514.70,397.25 515.30,395.92 515.90,394.47 516.50,392.86 517.10,391.08 517.70,389.10 518.30,386.88 518.90,384.40 519.50,381.61 520.10,378.45 520.70,374.88 521.30,370.85 521.90,366.29 522.50,361.23 523.10,355.77 523.70,350.33 524.30,345.82 524.40,345.26 524.70,344.02 524.85,343.70 524.90,343.64 525.00,343.59 525.15,343.70 525.30,344.01 525.50,344.75 525.60,345.24 526.10,348.62 526.70,353.84 527.30,359.30 527.90,364.42 528.50,369.01 529.10,373.05 529.70,376.56 530.30,379.59 530.90,382.20 531.50,384.44 532.10,386.36 532.70,387.99 533.30,389.37 533.90,390.53 534.50,391.50 535.10,392.29 535.70,392.91 536.30,393.39 536.90,393.73 537.50,393.95 538.10,394.04 538.70,394.02 539.30,393.89 539.90,393.63 540.50,393.24 541.10,392.71 541.70,392.03 542.30,391.19 542.90,390.16 543.50,388.93 544.10,387.47 544.70,385.74 545.30,383.72 545.90,381.36 546.50,378.62 547.10,375.44 547.70,371.76 548.30,367.54 548.90,362.76 549.50,357.49 550.10,352.03 550.70,347.11 551.00,345.24 551.30,344.01 551.30,344.01 551.45,343.70 551.60,343.59 551.75,343.70 551.90,344.02 551.90,344.02 552.20,345.25 552.50,347.14 553.10,352.10 553.70,357.62 554.30,362.97 554.90,367.87 555.50,372.24 556.10,376.12 556.70,379.54 557.30,382.57 557.90,385.25 558.50,387.64 559.10,389.77 559.70,391.68 560.30,393.40 560.90,394.95 561.50,396.36 562.10,397.64 562.70,398.81 563.30,399.89 563.90,400.88 564.50,401.79 565.10,402.64 565.70,403.43 566.30,404.16 566.90,404.85 567.50,405.49 568.10,406.10 568.70,406.67 569.30,407.21 569.90,407.73 570.50,408.21 571.10,408.68 571.70,409.12 572.30,409.54 572.90,409.95 573.50,410.34 574.10,410.71 574.70,411.08 575.30,411.42 575.90,411.76 576.50,412.09 577.10,412.40 577.70,412.71 578.30,413.01 578.90,413.30 579.50,413.58 580.10,413.85 580.70,414.12 581.30,414.38 581.90,414.64 582.50,414.89 583.10,415.14 583.70,415.38 584.30,415.61 584.90,415.84 585.50,416.07 586.10,416.29 586.70,416.51 587.30,416.73 587.90,416.94 588.50,417.15 589.10,417.35 589.70,417.56 590.30,417.76 590.90,417.95 591.50,418.15 592.10,418.34 592.70,418.53 593.30,418.71 593.90,418.90 594.50,419.08 595.10,419.26 595.70,419.44 596.30,419.61 596.90,419.79 597.50,419.96 598.10,420.13 598.70,420.30 599.30,420.47 599.90,420.63 600.50,420.79 601.10,420.96 601.70,421.12 602.30,421.28 602.90,421.43 603.50,421.59 604.10,421.74 604.70,421.90 605.30,422.05 605.90,422.20 606.50,422.35 607.10,422.50 607.70,422.64 608.30,422.79 608.90,422.93 609.50,423.08 610.10,423.22 610.70,423.36 611.30,423.50 611.90,423.64 612.50,423.78 613.10,423.91 613.70,424.05 614.30,424.18 614.90,424.32 615.50,424.45 616.10,424.58 616.70,424.71 617.30,424.84 617.90,424.97 618.50,425.10 619.10,425.22 619.70,425.35 620.30,425.48 620.90,425.60 621.50,425.72 622.10,425.85 622.70,425.97 623.30,426.09 623.90,426.21 624.50,426.33 625.10,426.45 625.70,426.56 626.30,426.68 626.90,426.80 627.50,426.91 628.10,427.03 628.70,427.14 629.30,427.26 629.90,427.37 630.50,427.48 631.10,427.59 631.70,427.70 632.30,427.81 632.90,427.92 633.50,428.03 634.10,428.14 634.70,428.24 635.30,428.35 635.90,428.46 636.50,428.56 637.10,428.67 637.70,428.77 638.30,428.87 638.90,428.98 639.50,429.08 640.10,429.18 640.70,429.28 641.30,429.38 641.90,429.48 642.50,429.58 643.10,429.68 643.70,429.78 644.30,429.87 644.90,429.97 645.50,430.07 646.10,430.16 646.70,430.26 647.30,430.35 647.90,430.45 648.50,430.54 649.10,430.63 649.70,430.72 650.30,430.82 650.90,430.91 651.50,431.00 652.10,431.09 652.70,431.18 653.30,431.27 653.90,431.36 654.50,431.45 655.10,431.53" stroke="#ff7f0e" stroke-width="1.5" fill="none" stroke-linejoin="round"/>
<line x1="538.60" y1="287.60" x2="538.60" y2="394.54" stroke="#ff7f0e" stroke-width="2.0"/>
</g>
<line x1="530.90" y1="287.10" x2="544.80" y2="287.10" stroke="#c80c0c" stroke-width="1.6"/>
<path d="M534.6,279.9 L542.3,279.9 L538.4,286.7 Z" stroke="none" stroke-width="1" fill="#ee1111"/>
<line x1="518.30" y1="340.10" x2="532.80" y2="340.10" stroke="#c80c0c" stroke-width="1.6"/>
<path d="M521.3,334.0 L528.7,334.0 L525.0,339.6 Z" stroke="none" stroke-width="1" fill="#111"/>
<line x1="544.70" y1="343.10" x2="558.90" y2="343.10" stroke="#c80c0c" stroke-width="1.6"/>
<path d="M547.7,336.8 L555.1,336.8 L551.4,342.4 Z" stroke="none" stroke-width="1" fill="#111"/>
<line x1="443.70" y1="288.00" x2="443.70" y2="339.60" stroke="#111" stroke-width="1.1"/>
<path d="M440.2,293.4 L443.7,287.5 L447.2,293.4" stroke="#111" stroke-width="1.0" fill="none"/>
<path d="M440.2,334.8 L443.7,340.4 L447.2,334.8" stroke="#111" stroke-width="1.0" fill="none"/>
<path d="M440.4,337.5 L447.0,346.0 M447.0,337.5 L440.4,346.0" stroke="#111" stroke-width="1.0" fill="none"/>
<text x="445.30" y="311.20" font-size="11" fill="#d62728" textLength="16.60" lengthAdjust="spacingAndGlyphs">Δ<tspan font-style="italic">y</tspan><tspan font-size="7.4" dy="1.8">1</tspan></text>
<text x="444.40" y="354.60" font-size="11" fill="#d62728" textLength="17.00" lengthAdjust="spacingAndGlyphs">Δ<tspan font-style="italic">y</tspan><tspan font-size="7.4" dy="1.8">2</tspan></text>
<text x="519.60" y="281.00" font-size="11" fill="#ff7f0e" textLength="7.20" lengthAdjust="spacingAndGlyphs" font-style="italic">f<tspan font-size="7.6" dy="2.0">c</tspan></text>
<text x="482.20" y="332.80" font-size="11" fill="#1f77b4" textLength="30.20" lengthAdjust="spacingAndGlyphs" font-style="italic">f<tspan font-size="7.6" dy="2.0">c</tspan><tspan dy="-2.0" font-style="normal"> − </tspan>f<tspan font-size="7.6" dy="2.0">m</tspan></text>
<text x="557.30" y="336.00" font-size="11" fill="#1f77b4" textLength="30.20" lengthAdjust="spacingAndGlyphs" font-style="italic">f<tspan font-size="7.6" dy="2.0">c</tspan><tspan dy="-2.0" font-style="normal"> + </tspan>f<tspan font-size="7.6" dy="2.0">m</tspan></text>
<line x1="584.40" y1="279.00" x2="596.90" y2="279.00" stroke="#1f77b4" stroke-width="1.6"/>
<text x="597.20" y="280.90" font-size="9.33" fill="#1f77b4" textLength="43.18" lengthAdjust="spacingAndGlyphs">Measured</text>
<line x1="584.40" y1="291.60" x2="596.90" y2="291.60" stroke="#ff7f0e" stroke-width="1.6"/>
<text x="598.60" y="293.50" font-size="9.33" fill="#ff7f0e" textLength="30.58" lengthAdjust="spacingAndGlyphs">Theory</text>
<line x1="412.50" y1="269.80" x2="653.60" y2="269.80" stroke="#999" stroke-width="1.6"/>
<line x1="412.50" y1="449.40" x2="653.60" y2="449.40" stroke="#222" stroke-width="1.2"/>
<line x1="412.50" y1="269.80" x2="412.50" y2="449.40" stroke="#222" stroke-width="1.2"/>
<line x1="653.60" y1="269.80" x2="653.60" y2="449.40" stroke="#444" stroke-width="1.2"/>
<line x1="412.5" y1="449.40" x2="416.7" y2="449.40" stroke="#111" stroke-width="1.3"/><line x1="412.5" y1="444.91" x2="414.5" y2="444.91" stroke="#111" stroke-width="1.0"/><line x1="412.5" y1="440.42" x2="414.5" y2="440.42" stroke="#111" stroke-width="1.0"/><line x1="412.5" y1="435.93" x2="414.5" y2="435.93" stroke="#111" stroke-width="1.0"/><line x1="412.5" y1="431.44" x2="414.5" y2="431.44" stroke="#111" stroke-width="1.0"/><line x1="412.5" y1="426.95" x2="416.7" y2="426.95" stroke="#111" stroke-width="1.3"/><line x1="412.5" y1="422.46" x2="414.5" y2="422.46" stroke="#111" stroke-width="1.0"/><line x1="412.5" y1="417.97" x2="414.5" y2="417.97" stroke="#111" stroke-width="1.0"/><line x1="412.5" y1="413.48" x2="414.5" y2="413.48" stroke="#111" stroke-width="1.0"/><line x1="412.5" y1="408.99" x2="414.5" y2="408.99" stroke="#111" stroke-width="1.0"/><line x1="412.5" y1="404.50" x2="416.7" y2="404.50" stroke="#111" stroke-width="1.3"/><line x1="412.5" y1="400.01" x2="414.5" y2="400.01" stroke="#111" stroke-width="1.0"/><line x1="412.5" y1="395.52" x2="414.5" y2="395.52" stroke="#111" stroke-width="1.0"/><line x1="412.5" y1="391.03" x2="414.5" y2="391.03" stroke="#111" stroke-width="1.0"/><line x1="412.5" y1="386.54" x2="414.5" y2="386.54" stroke="#111" stroke-width="1.0"/><line x1="412.5" y1="382.05" x2="416.7" y2="382.05" stroke="#111" stroke-width="1.3"/><line x1="412.5" y1="377.56" x2="414.5" y2="377.56" stroke="#111" stroke-width="1.0"/><line x1="412.5" y1="373.07" x2="414.5" y2="373.07" stroke="#111" stroke-width="1.0"/><line x1="412.5" y1="368.58" x2="414.5" y2="368.58" stroke="#111" stroke-width="1.0"/><line x1="412.5" y1="364.09" x2="414.5" y2="364.09" stroke="#111" stroke-width="1.0"/><line x1="412.5" y1="359.60" x2="416.7" y2="359.60" stroke="#111" stroke-width="1.3"/><line x1="412.5" y1="355.11" x2="414.5" y2="355.11" stroke="#111" stroke-width="1.0"/><line x1="412.5" y1="350.62" x2="414.5" y2="350.62" stroke="#111" stroke-width="1.0"/><line x1="412.5" y1="346.13" x2="414.5" y2="346.13" stroke="#111" stroke-width="1.0"/><line x1="412.5" y1="341.64" x2="414.5" y2="341.64" stroke="#111" stroke-width="1.0"/><line x1="412.5" y1="337.15" x2="416.7" y2="337.15" stroke="#111" stroke-width="1.3"/><line x1="412.5" y1="332.66" x2="414.5" y2="332.66" stroke="#111" stroke-width="1.0"/><line x1="412.5" y1="328.17" x2="414.5" y2="328.17" stroke="#111" stroke-width="1.0"/><line x1="412.5" y1="323.68" x2="414.5" y2="323.68" stroke="#111" stroke-width="1.0"/><line x1="412.5" y1="319.19" x2="414.5" y2="319.19" stroke="#111" stroke-width="1.0"/><line x1="412.5" y1="314.70" x2="416.7" y2="314.70" stroke="#111" stroke-width="1.3"/><line x1="412.5" y1="310.21" x2="414.5" y2="310.21" stroke="#111" stroke-width="1.0"/><line x1="412.5" y1="305.72" x2="414.5" y2="305.72" stroke="#111" stroke-width="1.0"/><line x1="412.5" y1="301.23" x2="414.5" y2="301.23" stroke="#111" stroke-width="1.0"/><line x1="412.5" y1="296.74" x2="414.5" y2="296.74" stroke="#111" stroke-width="1.0"/><line x1="412.5" y1="292.25" x2="416.7" y2="292.25" stroke="#111" stroke-width="1.3"/><line x1="412.5" y1="287.76" x2="414.5" y2="287.76" stroke="#111" stroke-width="1.0"/><line x1="412.5" y1="283.27" x2="414.5" y2="283.27" stroke="#111" stroke-width="1.0"/><line x1="412.5" y1="278.78" x2="414.5" y2="278.78" stroke="#111" stroke-width="1.0"/><line x1="412.5" y1="274.29" x2="414.5" y2="274.29" stroke="#111" stroke-width="1.0"/><line x1="412.5" y1="269.80" x2="416.7" y2="269.80" stroke="#111" stroke-width="1.3"/><line x1="416.47" y1="449.4" x2="416.47" y2="447.4" stroke="#111" stroke-width="1.2"/><line x1="433.10" y1="449.4" x2="433.10" y2="445.2" stroke="#111" stroke-width="1.2"/><line x1="449.74" y1="449.4" x2="449.74" y2="447.4" stroke="#111" stroke-width="1.2"/><line x1="466.37" y1="449.4" x2="466.37" y2="447.4" stroke="#111" stroke-width="1.2"/><line x1="483.01" y1="449.4" x2="483.01" y2="447.4" stroke="#111" stroke-width="1.2"/><line x1="499.64" y1="449.4" x2="499.64" y2="445.2" stroke="#111" stroke-width="1.2"/><line x1="516.27" y1="449.4" x2="516.27" y2="447.4" stroke="#111" stroke-width="1.2"/><line x1="532.91" y1="449.4" x2="532.91" y2="447.4" stroke="#111" stroke-width="1.2"/><line x1="549.55" y1="449.4" x2="549.55" y2="447.4" stroke="#111" stroke-width="1.2"/><line x1="566.18" y1="449.4" x2="566.18" y2="445.2" stroke="#111" stroke-width="1.2"/><line x1="582.82" y1="449.4" x2="582.82" y2="447.4" stroke="#111" stroke-width="1.2"/><line x1="599.45" y1="449.4" x2="599.45" y2="447.4" stroke="#111" stroke-width="1.2"/><line x1="616.09" y1="449.4" x2="616.09" y2="447.4" stroke="#111" stroke-width="1.2"/><line x1="632.72" y1="449.4" x2="632.72" y2="445.2" stroke="#111" stroke-width="1.2"/><line x1="649.36" y1="449.4" x2="649.36" y2="447.4" stroke="#111" stroke-width="1.2"/>
<text x="410.20" y="453.05" font-size="10.6" fill="#111" text-anchor="end" textLength="21.10" lengthAdjust="spacingAndGlyphs">−80</text>
<text x="410.20" y="430.60" font-size="10.6" fill="#111" text-anchor="end" textLength="21.10" lengthAdjust="spacingAndGlyphs">−75</text>
<text x="410.20" y="408.15" font-size="10.6" fill="#111" text-anchor="end" textLength="21.10" lengthAdjust="spacingAndGlyphs">−70</text>
<text x="410.20" y="385.70" font-size="10.6" fill="#111" text-anchor="end" textLength="21.10" lengthAdjust="spacingAndGlyphs">−65</text>
<text x="410.20" y="363.25" font-size="10.6" fill="#111" text-anchor="end" textLength="21.10" lengthAdjust="spacingAndGlyphs">−60</text>
<text x="410.20" y="340.80" font-size="10.6" fill="#111" text-anchor="end" textLength="21.10" lengthAdjust="spacingAndGlyphs">−55</text>
<text x="410.20" y="318.35" font-size="10.6" fill="#111" text-anchor="end" textLength="21.10" lengthAdjust="spacingAndGlyphs">−50</text>
<text x="410.20" y="295.90" font-size="10.6" fill="#111" text-anchor="end" textLength="21.10" lengthAdjust="spacingAndGlyphs">−45</text>
<text x="410.20" y="273.45" font-size="10.6" fill="#111" text-anchor="end" textLength="21.10" lengthAdjust="spacingAndGlyphs">−40</text>
<text x="433.10" y="459.80" font-size="10.6" fill="#111" text-anchor="middle" textLength="22.27" lengthAdjust="spacingAndGlyphs">0.02</text>
<text x="499.64" y="459.80" font-size="10.6" fill="#111" text-anchor="middle" textLength="22.27" lengthAdjust="spacingAndGlyphs">0.04</text>
<text x="566.18" y="459.80" font-size="10.6" fill="#111" text-anchor="middle" textLength="22.27" lengthAdjust="spacingAndGlyphs">0.06</text>
<text x="632.72" y="459.80" font-size="10.6" fill="#111" text-anchor="middle" textLength="22.27" lengthAdjust="spacingAndGlyphs">0.08</text>
<text x="487.60" y="471.80" font-size="10.6" fill="#111" textLength="90.20" lengthAdjust="spacingAndGlyphs" xml:space="preserve">Wavelength  (nm)</text>
<text x="597.60" y="471.80" font-size="10.6" fill="#111" textLength="55.88" lengthAdjust="spacingAndGlyphs">+1.5573e3</text>
<text transform="translate(382.4 395.2) rotate(-90)" font-size="10.6" fill="#111" textLength="69.8" lengthAdjust="spacingAndGlyphs" xml:space="preserve"><tspan font-style="italic">P</tspan><tspan font-size="7.4" dy="2.0">opt, out</tspan><tspan dy="-2.0">  (dBm)</tspan></text>
</svg></body></html>
